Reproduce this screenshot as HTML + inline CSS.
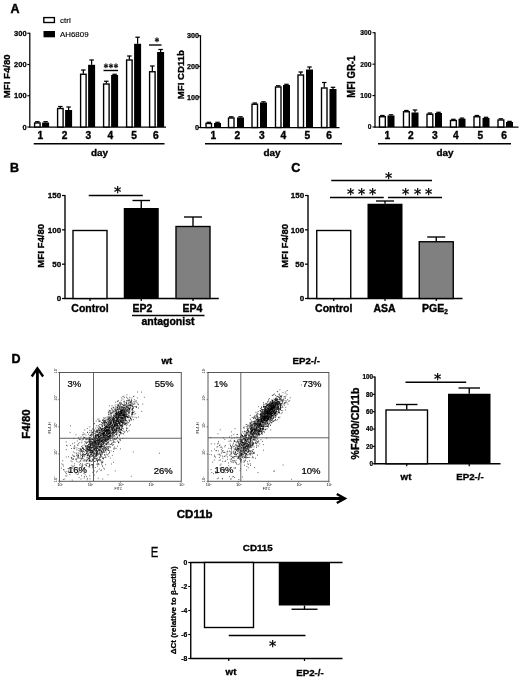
<!DOCTYPE html>
<html lang="en">
<head>
<meta charset="utf-8">
<title>Figure</title>
<style>
html,body{margin:0;padding:0;background:#fff;}
body{width:520px;height:681px;overflow:hidden;}
svg{display:block;}
svg text{font-family:"Liberation Sans",sans-serif;fill:#000;}
</style>
</head>
<body>
<svg width="520" height="681" viewBox="0 0 520 681">
<rect x="0" y="0" width="520" height="681" fill="#fff"/>
<text x="15.00" y="13.20" font-size="12.5" font-weight="bold" text-anchor="middle" stroke="#000" stroke-width="0.44">A</text>
<line x1="29.80" y1="32.75" x2="29.80" y2="127.50" stroke="#000" stroke-width="1.25"/>
<line x1="29.30" y1="127.00" x2="166.00" y2="127.00" stroke="#000" stroke-width="1.25"/>
<line x1="27.30" y1="33.25" x2="29.80" y2="33.25" stroke="#000" stroke-width="1.12"/>
<text x="26.60" y="35.95" font-size="7.5" font-weight="bold" text-anchor="end" stroke="#000" stroke-width="0.26">300</text>
<line x1="27.30" y1="64.50" x2="29.80" y2="64.50" stroke="#000" stroke-width="1.12"/>
<text x="26.60" y="67.20" font-size="7.5" font-weight="bold" text-anchor="end" stroke="#000" stroke-width="0.26">200</text>
<line x1="27.30" y1="95.75" x2="29.80" y2="95.75" stroke="#000" stroke-width="1.12"/>
<text x="26.60" y="98.45" font-size="7.5" font-weight="bold" text-anchor="end" stroke="#000" stroke-width="0.26">100</text>
<line x1="27.30" y1="127.00" x2="29.80" y2="127.00" stroke="#000" stroke-width="1.12"/>
<text x="26.60" y="129.70" font-size="7.5" font-weight="bold" text-anchor="end" stroke="#000" stroke-width="0.26">0</text>
<line x1="37.35" y1="122.50" x2="37.35" y2="121.70" stroke="#000" stroke-width="1.25"/>
<line x1="35.10" y1="121.70" x2="39.60" y2="121.70" stroke="#000" stroke-width="1.25"/>
<rect x="34.60" y="123.00" width="5.50" height="4.00" fill="#fff" stroke="#000" stroke-width="1.38"/>
<line x1="45.60" y1="122.50" x2="45.60" y2="121.70" stroke="#000" stroke-width="1.25"/>
<line x1="43.35" y1="121.70" x2="47.85" y2="121.70" stroke="#000" stroke-width="1.25"/>
<rect x="42.10" y="122.50" width="7.00" height="4.50" fill="#000" stroke="#000" stroke-width="0"/>
<text x="40.40" y="139.20" font-size="10.2" font-weight="bold" text-anchor="middle" stroke="#000" stroke-width="0.36">1</text>
<line x1="60.35" y1="108.00" x2="60.35" y2="106.50" stroke="#000" stroke-width="1.25"/>
<line x1="58.10" y1="106.50" x2="62.60" y2="106.50" stroke="#000" stroke-width="1.25"/>
<rect x="57.60" y="108.50" width="5.50" height="18.50" fill="#fff" stroke="#000" stroke-width="1.38"/>
<line x1="68.60" y1="110.00" x2="68.60" y2="107.00" stroke="#000" stroke-width="1.25"/>
<line x1="66.35" y1="107.00" x2="70.85" y2="107.00" stroke="#000" stroke-width="1.25"/>
<rect x="65.10" y="110.00" width="7.00" height="17.00" fill="#000" stroke="#000" stroke-width="0"/>
<text x="64.65" y="139.20" font-size="10.2" font-weight="bold" text-anchor="middle" stroke="#000" stroke-width="0.36">2</text>
<line x1="83.35" y1="73.75" x2="83.35" y2="70.00" stroke="#000" stroke-width="1.25"/>
<line x1="81.10" y1="70.00" x2="85.60" y2="70.00" stroke="#000" stroke-width="1.25"/>
<rect x="80.60" y="74.25" width="5.50" height="52.75" fill="#fff" stroke="#000" stroke-width="1.38"/>
<line x1="91.60" y1="64.80" x2="91.60" y2="60.00" stroke="#000" stroke-width="1.25"/>
<line x1="89.35" y1="60.00" x2="93.85" y2="60.00" stroke="#000" stroke-width="1.25"/>
<rect x="88.10" y="64.80" width="7.00" height="62.20" fill="#000" stroke="#000" stroke-width="0"/>
<text x="88.40" y="139.20" font-size="10.2" font-weight="bold" text-anchor="middle" stroke="#000" stroke-width="0.36">3</text>
<line x1="106.35" y1="83.50" x2="106.35" y2="81.25" stroke="#000" stroke-width="1.25"/>
<line x1="104.10" y1="81.25" x2="108.60" y2="81.25" stroke="#000" stroke-width="1.25"/>
<rect x="103.60" y="84.00" width="5.50" height="43.00" fill="#fff" stroke="#000" stroke-width="1.38"/>
<line x1="114.60" y1="75.00" x2="114.60" y2="74.30" stroke="#000" stroke-width="1.25"/>
<line x1="112.35" y1="74.30" x2="116.85" y2="74.30" stroke="#000" stroke-width="1.25"/>
<rect x="111.10" y="75.00" width="7.00" height="52.00" fill="#000" stroke="#000" stroke-width="0"/>
<text x="110.40" y="139.20" font-size="10.2" font-weight="bold" text-anchor="middle" stroke="#000" stroke-width="0.36">4</text>
<line x1="129.35" y1="59.50" x2="129.35" y2="56.00" stroke="#000" stroke-width="1.25"/>
<line x1="127.10" y1="56.00" x2="131.60" y2="56.00" stroke="#000" stroke-width="1.25"/>
<rect x="126.60" y="60.00" width="5.50" height="67.00" fill="#fff" stroke="#000" stroke-width="1.38"/>
<line x1="137.60" y1="43.80" x2="137.60" y2="37.20" stroke="#000" stroke-width="1.25"/>
<line x1="135.35" y1="37.20" x2="139.85" y2="37.20" stroke="#000" stroke-width="1.25"/>
<rect x="134.10" y="43.80" width="7.00" height="83.20" fill="#000" stroke="#000" stroke-width="0"/>
<text x="134.15" y="139.20" font-size="10.2" font-weight="bold" text-anchor="middle" stroke="#000" stroke-width="0.36">5</text>
<line x1="152.35" y1="71.25" x2="152.35" y2="66.00" stroke="#000" stroke-width="1.25"/>
<line x1="150.10" y1="66.00" x2="154.60" y2="66.00" stroke="#000" stroke-width="1.25"/>
<rect x="149.60" y="71.75" width="5.50" height="55.25" fill="#fff" stroke="#000" stroke-width="1.38"/>
<line x1="160.60" y1="52.00" x2="160.60" y2="49.50" stroke="#000" stroke-width="1.25"/>
<line x1="158.35" y1="49.50" x2="162.85" y2="49.50" stroke="#000" stroke-width="1.25"/>
<rect x="157.10" y="52.00" width="7.00" height="75.00" fill="#000" stroke="#000" stroke-width="0"/>
<text x="155.90" y="139.20" font-size="10.2" font-weight="bold" text-anchor="middle" stroke="#000" stroke-width="0.36">6</text>
<line x1="33.75" y1="143.75" x2="164.50" y2="143.75" stroke="#000" stroke-width="1.38"/>
<text x="99.60" y="155.50" font-size="9.9" font-weight="bold" text-anchor="middle" stroke="#000" stroke-width="0.35">day</text>
<text x="10.40" y="76.30" font-size="9.6" font-weight="bold" text-anchor="middle" transform="rotate(-90 10.40 76.30)" stroke="#000" stroke-width="0.34">MFI F4/80</text>
<rect x="43.80" y="17.60" width="10.60" height="4.90" fill="#fff" stroke="#000" stroke-width="1.38"/>
<text x="60.00" y="22.60" font-size="8.0" font-weight="normal" text-anchor="start" stroke="#000" stroke-width="0.15">ctrl</text>
<rect x="43.50" y="31.00" width="11.50" height="6.30" fill="#000" stroke="#000" stroke-width="0"/>
<text x="60.00" y="37.20" font-size="7.9" font-weight="normal" text-anchor="start" stroke="#000" stroke-width="0.15">AH6809</text>
<line x1="103.50" y1="70.50" x2="118.00" y2="70.50" stroke="#000" stroke-width="1.38"/>
<text x="102.66" y="67.51" font-size="6.6" font-family="'Liberation Sans','DejaVu Sans',sans-serif" stroke="#000" stroke-width="0.33">∗</text>
<text x="107.86" y="67.51" font-size="6.6" font-family="'Liberation Sans','DejaVu Sans',sans-serif" stroke="#000" stroke-width="0.33">∗</text>
<text x="113.06" y="67.51" font-size="6.6" font-family="'Liberation Sans','DejaVu Sans',sans-serif" stroke="#000" stroke-width="0.33">∗</text>
<line x1="149.00" y1="45.00" x2="161.50" y2="45.00" stroke="#000" stroke-width="1.38"/>
<text x="154.26" y="42.11" font-size="6.6" font-family="'Liberation Sans','DejaVu Sans',sans-serif" stroke="#000" stroke-width="0.33">∗</text>
<line x1="200.50" y1="35.25" x2="200.50" y2="128.00" stroke="#000" stroke-width="1.25"/>
<line x1="200.00" y1="127.50" x2="339.50" y2="127.50" stroke="#000" stroke-width="1.25"/>
<line x1="198.00" y1="35.75" x2="200.50" y2="35.75" stroke="#000" stroke-width="1.12"/>
<text x="198.90" y="38.34" font-size="7.2" font-weight="bold" text-anchor="end" stroke="#000" stroke-width="0.25">300</text>
<line x1="198.00" y1="66.33" x2="200.50" y2="66.33" stroke="#000" stroke-width="1.12"/>
<text x="198.90" y="68.93" font-size="7.2" font-weight="bold" text-anchor="end" stroke="#000" stroke-width="0.25">200</text>
<line x1="198.00" y1="96.92" x2="200.50" y2="96.92" stroke="#000" stroke-width="1.12"/>
<text x="198.90" y="99.51" font-size="7.2" font-weight="bold" text-anchor="end" stroke="#000" stroke-width="0.25">100</text>
<line x1="198.00" y1="127.50" x2="200.50" y2="127.50" stroke="#000" stroke-width="1.12"/>
<text x="198.90" y="130.09" font-size="7.2" font-weight="bold" text-anchor="end" stroke="#000" stroke-width="0.25">0</text>
<line x1="208.75" y1="123.00" x2="208.75" y2="122.30" stroke="#000" stroke-width="1.25"/>
<line x1="206.50" y1="122.30" x2="211.00" y2="122.30" stroke="#000" stroke-width="1.25"/>
<rect x="206.00" y="123.50" width="5.50" height="4.00" fill="#fff" stroke="#000" stroke-width="1.38"/>
<line x1="217.50" y1="123.00" x2="217.50" y2="122.30" stroke="#000" stroke-width="1.25"/>
<line x1="215.25" y1="122.30" x2="219.75" y2="122.30" stroke="#000" stroke-width="1.25"/>
<rect x="214.00" y="123.00" width="7.00" height="4.50" fill="#000" stroke="#000" stroke-width="0"/>
<text x="213.40" y="139.20" font-size="10.2" font-weight="bold" text-anchor="middle" stroke="#000" stroke-width="0.36">1</text>
<line x1="231.25" y1="117.50" x2="231.25" y2="116.80" stroke="#000" stroke-width="1.25"/>
<line x1="229.00" y1="116.80" x2="233.50" y2="116.80" stroke="#000" stroke-width="1.25"/>
<rect x="228.50" y="118.00" width="5.50" height="9.50" fill="#fff" stroke="#000" stroke-width="1.38"/>
<line x1="240.50" y1="117.50" x2="240.50" y2="116.80" stroke="#000" stroke-width="1.25"/>
<line x1="238.25" y1="116.80" x2="242.75" y2="116.80" stroke="#000" stroke-width="1.25"/>
<rect x="237.00" y="117.50" width="7.00" height="10.00" fill="#000" stroke="#000" stroke-width="0"/>
<text x="237.40" y="139.20" font-size="10.2" font-weight="bold" text-anchor="middle" stroke="#000" stroke-width="0.36">2</text>
<line x1="254.75" y1="103.75" x2="254.75" y2="103.00" stroke="#000" stroke-width="1.25"/>
<line x1="252.50" y1="103.00" x2="257.00" y2="103.00" stroke="#000" stroke-width="1.25"/>
<rect x="252.00" y="104.25" width="5.50" height="23.25" fill="#fff" stroke="#000" stroke-width="1.38"/>
<line x1="263.50" y1="102.50" x2="263.50" y2="101.80" stroke="#000" stroke-width="1.25"/>
<line x1="261.25" y1="101.80" x2="265.75" y2="101.80" stroke="#000" stroke-width="1.25"/>
<rect x="260.00" y="102.50" width="7.00" height="25.00" fill="#000" stroke="#000" stroke-width="0"/>
<text x="261.90" y="139.20" font-size="10.2" font-weight="bold" text-anchor="middle" stroke="#000" stroke-width="0.36">3</text>
<line x1="278.25" y1="86.50" x2="278.25" y2="85.80" stroke="#000" stroke-width="1.25"/>
<line x1="276.00" y1="85.80" x2="280.50" y2="85.80" stroke="#000" stroke-width="1.25"/>
<rect x="275.50" y="87.00" width="5.50" height="40.50" fill="#fff" stroke="#000" stroke-width="1.38"/>
<line x1="286.50" y1="85.00" x2="286.50" y2="84.30" stroke="#000" stroke-width="1.25"/>
<line x1="284.25" y1="84.30" x2="288.75" y2="84.30" stroke="#000" stroke-width="1.25"/>
<rect x="283.00" y="85.00" width="7.00" height="42.50" fill="#000" stroke="#000" stroke-width="0"/>
<text x="283.40" y="139.20" font-size="10.2" font-weight="bold" text-anchor="middle" stroke="#000" stroke-width="0.36">4</text>
<line x1="300.75" y1="74.50" x2="300.75" y2="72.00" stroke="#000" stroke-width="1.25"/>
<line x1="298.50" y1="72.00" x2="303.00" y2="72.00" stroke="#000" stroke-width="1.25"/>
<rect x="298.00" y="75.00" width="5.50" height="52.50" fill="#fff" stroke="#000" stroke-width="1.38"/>
<line x1="309.50" y1="69.50" x2="309.50" y2="67.00" stroke="#000" stroke-width="1.25"/>
<line x1="307.25" y1="67.00" x2="311.75" y2="67.00" stroke="#000" stroke-width="1.25"/>
<rect x="306.00" y="69.50" width="7.00" height="58.00" fill="#000" stroke="#000" stroke-width="0"/>
<text x="307.40" y="139.20" font-size="10.2" font-weight="bold" text-anchor="middle" stroke="#000" stroke-width="0.36">5</text>
<line x1="324.25" y1="87.50" x2="324.25" y2="82.50" stroke="#000" stroke-width="1.25"/>
<line x1="322.00" y1="82.50" x2="326.50" y2="82.50" stroke="#000" stroke-width="1.25"/>
<rect x="321.50" y="88.00" width="5.50" height="39.50" fill="#fff" stroke="#000" stroke-width="1.38"/>
<line x1="333.00" y1="89.00" x2="333.00" y2="87.30" stroke="#000" stroke-width="1.25"/>
<line x1="330.75" y1="87.30" x2="335.25" y2="87.30" stroke="#000" stroke-width="1.25"/>
<rect x="329.50" y="89.00" width="7.00" height="38.50" fill="#000" stroke="#000" stroke-width="0"/>
<text x="329.15" y="139.20" font-size="10.2" font-weight="bold" text-anchor="middle" stroke="#000" stroke-width="0.36">6</text>
<line x1="205.00" y1="143.75" x2="342.00" y2="143.75" stroke="#000" stroke-width="1.38"/>
<text x="272.00" y="155.50" font-size="9.9" font-weight="bold" text-anchor="middle" stroke="#000" stroke-width="0.35">day</text>
<text x="184.20" y="74.60" font-size="9.6" font-weight="bold" text-anchor="middle" transform="rotate(-90 184.20 74.60)" stroke="#000" stroke-width="0.34">MFI CD11b</text>
<line x1="375.00" y1="32.25" x2="375.00" y2="127.50" stroke="#000" stroke-width="1.25"/>
<line x1="374.50" y1="127.00" x2="518.50" y2="127.00" stroke="#000" stroke-width="1.25"/>
<line x1="372.50" y1="32.75" x2="375.00" y2="32.75" stroke="#000" stroke-width="1.12"/>
<text x="371.50" y="35.16" font-size="6.7" font-weight="bold" text-anchor="end" stroke="#000" stroke-width="0.23">300</text>
<line x1="372.50" y1="64.17" x2="375.00" y2="64.17" stroke="#000" stroke-width="1.12"/>
<text x="371.50" y="66.58" font-size="6.7" font-weight="bold" text-anchor="end" stroke="#000" stroke-width="0.23">200</text>
<line x1="372.50" y1="95.58" x2="375.00" y2="95.58" stroke="#000" stroke-width="1.12"/>
<text x="371.50" y="98.00" font-size="6.7" font-weight="bold" text-anchor="end" stroke="#000" stroke-width="0.23">100</text>
<line x1="372.50" y1="127.00" x2="375.00" y2="127.00" stroke="#000" stroke-width="1.12"/>
<text x="371.50" y="129.41" font-size="6.7" font-weight="bold" text-anchor="end" stroke="#000" stroke-width="0.23">0</text>
<line x1="382.40" y1="116.25" x2="382.40" y2="115.50" stroke="#000" stroke-width="1.25"/>
<line x1="380.15" y1="115.50" x2="384.65" y2="115.50" stroke="#000" stroke-width="1.25"/>
<rect x="379.50" y="116.75" width="5.80" height="10.25" fill="#fff" stroke="#000" stroke-width="1.38"/>
<line x1="391.00" y1="115.50" x2="391.00" y2="114.80" stroke="#000" stroke-width="1.25"/>
<line x1="388.75" y1="114.80" x2="393.25" y2="114.80" stroke="#000" stroke-width="1.25"/>
<rect x="387.50" y="115.50" width="7.00" height="11.50" fill="#000" stroke="#000" stroke-width="0"/>
<text x="387.40" y="139.20" font-size="10.2" font-weight="bold" text-anchor="middle" stroke="#000" stroke-width="0.36">1</text>
<line x1="406.40" y1="111.25" x2="406.40" y2="110.50" stroke="#000" stroke-width="1.25"/>
<line x1="404.15" y1="110.50" x2="408.65" y2="110.50" stroke="#000" stroke-width="1.25"/>
<rect x="403.50" y="111.75" width="5.80" height="15.25" fill="#fff" stroke="#000" stroke-width="1.38"/>
<line x1="415.00" y1="112.50" x2="415.00" y2="110.00" stroke="#000" stroke-width="1.25"/>
<line x1="412.75" y1="110.00" x2="417.25" y2="110.00" stroke="#000" stroke-width="1.25"/>
<rect x="411.50" y="112.50" width="7.00" height="14.50" fill="#000" stroke="#000" stroke-width="0"/>
<text x="410.90" y="139.20" font-size="10.2" font-weight="bold" text-anchor="middle" stroke="#000" stroke-width="0.36">2</text>
<line x1="429.90" y1="113.75" x2="429.90" y2="113.00" stroke="#000" stroke-width="1.25"/>
<line x1="427.65" y1="113.00" x2="432.15" y2="113.00" stroke="#000" stroke-width="1.25"/>
<rect x="427.00" y="114.25" width="5.80" height="12.75" fill="#fff" stroke="#000" stroke-width="1.38"/>
<line x1="438.50" y1="113.00" x2="438.50" y2="112.30" stroke="#000" stroke-width="1.25"/>
<line x1="436.25" y1="112.30" x2="440.75" y2="112.30" stroke="#000" stroke-width="1.25"/>
<rect x="435.00" y="113.00" width="7.00" height="14.00" fill="#000" stroke="#000" stroke-width="0"/>
<text x="434.90" y="139.20" font-size="10.2" font-weight="bold" text-anchor="middle" stroke="#000" stroke-width="0.36">3</text>
<line x1="453.40" y1="120.00" x2="453.40" y2="119.30" stroke="#000" stroke-width="1.25"/>
<line x1="451.15" y1="119.30" x2="455.65" y2="119.30" stroke="#000" stroke-width="1.25"/>
<rect x="450.50" y="120.50" width="5.80" height="6.50" fill="#fff" stroke="#000" stroke-width="1.38"/>
<line x1="462.00" y1="118.75" x2="462.00" y2="118.10" stroke="#000" stroke-width="1.25"/>
<line x1="459.75" y1="118.10" x2="464.25" y2="118.10" stroke="#000" stroke-width="1.25"/>
<rect x="458.50" y="118.75" width="7.00" height="8.25" fill="#000" stroke="#000" stroke-width="0"/>
<text x="455.90" y="139.20" font-size="10.2" font-weight="bold" text-anchor="middle" stroke="#000" stroke-width="0.36">4</text>
<line x1="476.90" y1="116.25" x2="476.90" y2="115.50" stroke="#000" stroke-width="1.25"/>
<line x1="474.65" y1="115.50" x2="479.15" y2="115.50" stroke="#000" stroke-width="1.25"/>
<rect x="474.00" y="116.75" width="5.80" height="10.25" fill="#fff" stroke="#000" stroke-width="1.38"/>
<line x1="486.00" y1="118.00" x2="486.00" y2="117.30" stroke="#000" stroke-width="1.25"/>
<line x1="483.75" y1="117.30" x2="488.25" y2="117.30" stroke="#000" stroke-width="1.25"/>
<rect x="482.50" y="118.00" width="7.00" height="9.00" fill="#000" stroke="#000" stroke-width="0"/>
<text x="480.40" y="139.20" font-size="10.2" font-weight="bold" text-anchor="middle" stroke="#000" stroke-width="0.36">5</text>
<line x1="500.90" y1="119.50" x2="500.90" y2="118.80" stroke="#000" stroke-width="1.25"/>
<line x1="498.65" y1="118.80" x2="503.15" y2="118.80" stroke="#000" stroke-width="1.25"/>
<rect x="498.00" y="120.00" width="5.80" height="7.00" fill="#fff" stroke="#000" stroke-width="1.38"/>
<line x1="509.50" y1="122.00" x2="509.50" y2="121.40" stroke="#000" stroke-width="1.25"/>
<line x1="507.25" y1="121.40" x2="511.75" y2="121.40" stroke="#000" stroke-width="1.25"/>
<rect x="506.00" y="122.00" width="7.00" height="5.00" fill="#000" stroke="#000" stroke-width="0"/>
<text x="504.15" y="139.20" font-size="10.2" font-weight="bold" text-anchor="middle" stroke="#000" stroke-width="0.36">6</text>
<line x1="378.00" y1="143.75" x2="511.00" y2="143.75" stroke="#000" stroke-width="1.38"/>
<text x="445.00" y="155.50" font-size="9.9" font-weight="bold" text-anchor="middle" stroke="#000" stroke-width="0.35">day</text>
<text x="0" y="0" font-size="9.6" font-weight="bold" text-anchor="middle" transform="translate(355.20 76.70) rotate(-90) scale(1 1.16)" stroke="#000" stroke-width="0.34">MFI GR-1</text>
<text x="14.50" y="172.00" font-size="12.5" font-weight="bold" text-anchor="middle" stroke="#000" stroke-width="0.44">B</text>
<line x1="65.00" y1="195.00" x2="65.00" y2="299.00" stroke="#000" stroke-width="1.38"/>
<line x1="64.50" y1="298.50" x2="218.75" y2="298.50" stroke="#000" stroke-width="1.38"/>
<line x1="62.00" y1="195.50" x2="65.00" y2="195.50" stroke="#000" stroke-width="1.25"/>
<text x="61.20" y="198.40" font-size="8.0" font-weight="bold" text-anchor="end" stroke="#000" stroke-width="0.28">150</text>
<line x1="62.00" y1="229.83" x2="65.00" y2="229.83" stroke="#000" stroke-width="1.25"/>
<text x="61.20" y="232.73" font-size="8.0" font-weight="bold" text-anchor="end" stroke="#000" stroke-width="0.28">100</text>
<line x1="62.00" y1="264.17" x2="65.00" y2="264.17" stroke="#000" stroke-width="1.25"/>
<text x="61.20" y="267.07" font-size="8.0" font-weight="bold" text-anchor="end" stroke="#000" stroke-width="0.28">50</text>
<line x1="62.00" y1="298.50" x2="65.00" y2="298.50" stroke="#000" stroke-width="1.25"/>
<text x="61.20" y="301.40" font-size="8.0" font-weight="bold" text-anchor="end" stroke="#000" stroke-width="0.28">0</text>
<rect x="73.00" y="230.50" width="34.00" height="68.00" fill="#fff" stroke="#000" stroke-width="1.38"/>
<line x1="90.00" y1="298.50" x2="90.00" y2="301.00" stroke="#000" stroke-width="1.25"/>
<line x1="141.25" y1="208.00" x2="141.25" y2="200.50" stroke="#000" stroke-width="1.38"/>
<line x1="132.50" y1="200.50" x2="150.00" y2="200.50" stroke="#000" stroke-width="1.38"/>
<rect x="123.75" y="208.00" width="35.00" height="90.50" fill="#000" stroke="#000" stroke-width="0"/>
<line x1="141.25" y1="298.50" x2="141.25" y2="301.00" stroke="#000" stroke-width="1.25"/>
<line x1="193.00" y1="226.00" x2="193.00" y2="217.00" stroke="#000" stroke-width="1.38"/>
<line x1="184.00" y1="217.00" x2="202.00" y2="217.00" stroke="#000" stroke-width="1.38"/>
<rect x="176.00" y="226.50" width="34.00" height="72.00" fill="#808080" stroke="#000" stroke-width="1.38"/>
<line x1="193.00" y1="298.50" x2="193.00" y2="301.00" stroke="#000" stroke-width="1.25"/>
<text x="44.50" y="245.80" font-size="9.6" font-weight="bold" text-anchor="middle" transform="rotate(-90 44.50 245.80)" stroke="#000" stroke-width="0.34">MFI F4/80</text>
<line x1="88.75" y1="195.40" x2="142.80" y2="195.40" stroke="#000" stroke-width="1.5"/>
<text x="112.62" y="193.06" font-size="10.8" font-family="'Liberation Sans','DejaVu Sans',sans-serif" stroke="#000" stroke-width="0.27">∗</text>
<text x="90.00" y="311.70" font-size="10.5" font-weight="bold" text-anchor="middle" stroke="#000" stroke-width="0.37">Control</text>
<text x="142.50" y="311.70" font-size="10.5" font-weight="bold" text-anchor="middle" stroke="#000" stroke-width="0.37">EP2</text>
<text x="192.50" y="311.70" font-size="10.5" font-weight="bold" text-anchor="middle" stroke="#000" stroke-width="0.37">EP4</text>
<line x1="132.00" y1="315.50" x2="204.50" y2="315.50" stroke="#000" stroke-width="1.38"/>
<text x="168.00" y="324.60" font-size="10.5" font-weight="bold" text-anchor="middle" stroke="#000" stroke-width="0.37">antagonist</text>
<text x="295.80" y="172.00" font-size="12.5" font-weight="bold" text-anchor="middle" stroke="#000" stroke-width="0.44">C</text>
<line x1="308.00" y1="195.00" x2="308.00" y2="299.00" stroke="#000" stroke-width="1.38"/>
<line x1="307.50" y1="298.50" x2="462.50" y2="298.50" stroke="#000" stroke-width="1.38"/>
<line x1="305.00" y1="195.50" x2="308.00" y2="195.50" stroke="#000" stroke-width="1.25"/>
<text x="304.20" y="198.40" font-size="8.0" font-weight="bold" text-anchor="end" stroke="#000" stroke-width="0.28">150</text>
<line x1="305.00" y1="229.83" x2="308.00" y2="229.83" stroke="#000" stroke-width="1.25"/>
<text x="304.20" y="232.73" font-size="8.0" font-weight="bold" text-anchor="end" stroke="#000" stroke-width="0.28">100</text>
<line x1="305.00" y1="264.17" x2="308.00" y2="264.17" stroke="#000" stroke-width="1.25"/>
<text x="304.20" y="267.07" font-size="8.0" font-weight="bold" text-anchor="end" stroke="#000" stroke-width="0.28">50</text>
<line x1="305.00" y1="298.50" x2="308.00" y2="298.50" stroke="#000" stroke-width="1.25"/>
<text x="304.20" y="301.40" font-size="8.0" font-weight="bold" text-anchor="end" stroke="#000" stroke-width="0.28">0</text>
<rect x="316.75" y="230.50" width="34.00" height="68.00" fill="#fff" stroke="#000" stroke-width="1.38"/>
<line x1="333.75" y1="298.50" x2="333.75" y2="301.00" stroke="#000" stroke-width="1.25"/>
<line x1="385.00" y1="203.75" x2="385.00" y2="201.00" stroke="#000" stroke-width="1.38"/>
<line x1="376.00" y1="201.00" x2="394.00" y2="201.00" stroke="#000" stroke-width="1.38"/>
<rect x="367.50" y="203.75" width="35.00" height="94.75" fill="#000" stroke="#000" stroke-width="0"/>
<line x1="385.00" y1="298.50" x2="385.00" y2="301.00" stroke="#000" stroke-width="1.25"/>
<line x1="436.25" y1="241.25" x2="436.25" y2="237.00" stroke="#000" stroke-width="1.38"/>
<line x1="427.25" y1="237.00" x2="445.25" y2="237.00" stroke="#000" stroke-width="1.38"/>
<rect x="419.25" y="241.75" width="34.00" height="56.75" fill="#808080" stroke="#000" stroke-width="1.38"/>
<line x1="436.25" y1="298.50" x2="436.25" y2="301.00" stroke="#000" stroke-width="1.25"/>
<text x="288.00" y="245.80" font-size="9.6" font-weight="bold" text-anchor="middle" transform="rotate(-90 288.00 245.80)" stroke="#000" stroke-width="0.34">MFI F4/80</text>
<line x1="331.25" y1="180.60" x2="432.00" y2="180.60" stroke="#000" stroke-width="1.5"/>
<text x="383.52" y="178.76" font-size="10.8" font-family="'Liberation Sans','DejaVu Sans',sans-serif" stroke="#000" stroke-width="0.27">∗</text>
<line x1="330.00" y1="197.60" x2="383.75" y2="197.60" stroke="#000" stroke-width="1.5"/>
<line x1="388.00" y1="197.60" x2="442.00" y2="197.60" stroke="#000" stroke-width="1.5"/>
<text x="346.02" y="194.76" font-size="10.8" font-family="'Liberation Sans','DejaVu Sans',sans-serif" stroke="#000" stroke-width="0.27">∗</text>
<text x="357.02" y="194.76" font-size="10.8" font-family="'Liberation Sans','DejaVu Sans',sans-serif" stroke="#000" stroke-width="0.27">∗</text>
<text x="368.27" y="194.76" font-size="10.8" font-family="'Liberation Sans','DejaVu Sans',sans-serif" stroke="#000" stroke-width="0.27">∗</text>
<text x="401.02" y="194.76" font-size="10.8" font-family="'Liberation Sans','DejaVu Sans',sans-serif" stroke="#000" stroke-width="0.27">∗</text>
<text x="412.52" y="194.76" font-size="10.8" font-family="'Liberation Sans','DejaVu Sans',sans-serif" stroke="#000" stroke-width="0.27">∗</text>
<text x="423.77" y="194.76" font-size="10.8" font-family="'Liberation Sans','DejaVu Sans',sans-serif" stroke="#000" stroke-width="0.27">∗</text>
<text x="333.75" y="312.30" font-size="10.5" font-weight="bold" text-anchor="middle" stroke="#000" stroke-width="0.37">Control</text>
<text x="384.60" y="312.30" font-size="10.5" font-weight="bold" text-anchor="middle" stroke="#000" stroke-width="0.37">ASA</text>
<text x="435.00" y="312.30" font-size="10.5" font-weight="bold" text-anchor="middle" stroke="#000" stroke-width="0.37">PGE<tspan font-size="6.5" dy="2">2</tspan></text>
<text x="16.00" y="363.30" font-size="12.5" font-weight="bold" text-anchor="middle" stroke="#000" stroke-width="0.44">D</text>
<line x1="37.40" y1="369.00" x2="37.40" y2="499.90" stroke="#000" stroke-width="2.8"/>
<polyline points="31.7,376.5 37.4,368.3 43.1,376.5" fill="none" stroke="#000" stroke-width="2.4" stroke-linejoin="miter"/>
<line x1="36.00" y1="498.50" x2="345.00" y2="498.50" stroke="#000" stroke-width="2.8"/>
<polyline points="336.8,494.0 344.9,498.5 336.8,503.0" fill="none" stroke="#000" stroke-width="2.4" stroke-linejoin="miter"/>
<text x="30.00" y="424.00" font-size="11.5" font-weight="bold" text-anchor="middle" transform="rotate(-90 30.00 424.00)" stroke="#000" stroke-width="0.40">F4/80</text>
<text x="194.70" y="518.00" font-size="11.5" font-weight="bold" text-anchor="middle" stroke="#000" stroke-width="0.40">CD11b</text>
<path d="M90.8 447.1h.8M95.7 449.9h.8M91.8 454.9h.8M97.9 437.0h.8M98.5 438.2h.8M95.8 443.3h.8M82.1 456.6h.8M94.5 441.3h.8M97.0 466.2h.8M93.5 455.5h.8M96.7 444.8h.8M101.2 445.3h.8M94.2 443.2h.8M81.9 445.9h.8M90.8 438.4h.8M96.3 454.4h.8M94.0 450.0h.8M96.6 441.3h.8M98.4 453.9h.8M85.5 446.6h.8M89.7 452.3h.8M105.6 449.1h.8M87.7 441.9h.8M87.2 463.5h.8M99.2 450.8h.8M97.7 443.4h.8M83.2 455.2h.8M92.7 438.5h.8M99.8 434.7h.8M103.1 450.8h.8M101.5 444.5h.8M100.1 455.0h.8M93.4 456.3h.8M112.9 444.5h.8M86.7 457.3h.8M98.5 433.9h.8M100.5 470.6h.8M101.0 446.9h.8M84.0 452.0h.8M99.3 438.0h.8M93.7 443.6h.8M99.0 432.6h.8M94.3 441.1h.8M80.1 454.4h.8M96.5 437.8h.8M89.2 464.3h.8M109.5 447.1h.8M88.2 444.7h.8M79.5 451.2h.8M98.5 443.3h.8M92.8 442.2h.8M89.0 442.0h.8M94.2 453.5h.8M99.8 439.0h.8M85.3 450.3h.8M104.6 437.4h.8M89.2 458.0h.8M96.0 449.2h.8M107.6 440.0h.8M108.3 441.9h.8M87.6 450.7h.8M95.4 435.3h.8M95.8 443.9h.8M92.4 443.8h.8M92.6 447.3h.8M97.7 442.6h.8M95.4 439.1h.8M102.7 430.5h.8M95.1 451.6h.8M89.6 443.8h.8M91.2 448.2h.8M118.6 442.2h.8M88.2 454.7h.8M95.5 443.1h.8M89.2 447.9h.8M99.4 446.7h.8M104.5 427.2h.8M92.9 451.6h.8M94.3 448.9h.8M84.8 469.6h.8M106.5 443.5h.8M89.2 444.1h.8M90.5 435.1h.8M88.9 461.3h.8M89.8 447.4h.8M115.7 448.3h.8M108.5 443.9h.8M106.9 447.2h.8M88.9 441.4h.8M93.2 447.5h.8M98.0 440.4h.8M85.7 442.2h.8M101.7 440.1h.8M114.7 430.2h.8M100.9 441.0h.8M91.6 443.4h.8M92.4 443.0h.8M96.4 464.1h.8M103.5 445.8h.8M98.6 460.1h.8M96.7 434.6h.8M107.4 439.1h.8M101.6 451.1h.8M89.5 435.4h.8M81.8 448.2h.8M100.7 440.1h.8M77.5 457.0h.8M98.0 449.9h.8M94.5 442.5h.8M108.0 439.2h.8M91.8 433.0h.8M103.0 436.6h.8M85.6 449.0h.8M94.8 445.7h.8M103.3 437.1h.8M86.3 465.9h.8M81.4 458.2h.8M100.0 446.8h.8M90.2 444.1h.8M87.7 441.6h.8M88.7 443.7h.8M92.8 429.8h.8M86.7 449.0h.8M92.3 465.2h.8M79.5 458.1h.8M89.2 456.4h.8M94.2 448.6h.8M90.8 450.7h.8M103.3 433.2h.8M91.8 439.3h.8M101.3 453.1h.8M86.2 447.4h.8M90.6 461.7h.8M95.2 436.5h.8M90.4 444.0h.8M102.6 450.0h.8M91.2 461.2h.8M102.7 442.0h.8M95.1 456.7h.8M88.4 459.1h.8M87.3 454.7h.8M81.9 463.8h.8M103.1 458.9h.8M100.0 442.5h.8M89.4 467.2h.8M99.0 446.4h.8M94.4 438.4h.8M96.3 440.7h.8M97.6 434.4h.8M109.2 451.1h.8M91.7 435.4h.8M96.3 451.0h.8M114.4 438.5h.8M83.3 434.7h.8M86.6 451.6h.8M104.7 433.0h.8M92.5 439.5h.8M91.2 454.2h.8M91.6 441.8h.8M96.0 448.0h.8M92.2 456.0h.8M98.7 439.8h.8M95.8 456.5h.8M101.1 422.5h.8M113.0 451.5h.8M95.2 440.5h.8M100.6 432.6h.8M91.7 445.6h.8M79.8 458.1h.8M100.6 447.1h.8M90.9 430.4h.8M92.2 460.1h.8M95.3 444.1h.8M98.7 453.6h.8M99.1 427.1h.8M97.1 461.0h.8M97.4 430.4h.8M99.0 430.2h.8M89.3 452.7h.8M89.0 466.2h.8M91.7 445.6h.8M92.2 453.0h.8M95.0 442.1h.8M96.8 441.4h.8M88.9 446.6h.8M100.0 449.6h.8M92.0 451.8h.8M93.6 447.3h.8M94.0 446.4h.8M101.6 452.6h.8M90.9 440.0h.8M98.2 444.4h.8M102.7 447.1h.8M85.6 461.3h.8M86.3 451.4h.8M105.0 464.7h.8M80.9 449.2h.8M101.1 454.8h.8M88.4 450.9h.8M96.4 442.6h.8M98.0 433.1h.8M91.5 445.0h.8M97.3 430.9h.8M106.1 443.1h.8M90.1 445.5h.8M87.4 445.4h.8M92.6 439.2h.8M79.3 439.4h.8M102.2 438.3h.8M80.5 437.0h.8M88.3 446.5h.8M99.6 439.5h.8M88.4 455.2h.8M90.2 440.2h.8M98.6 440.9h.8M96.0 438.5h.8M95.7 445.2h.8M89.9 446.4h.8M93.6 457.3h.8M103.5 452.2h.8M104.5 457.6h.8M88.5 450.2h.8M98.0 442.9h.8M102.1 453.9h.8M100.7 431.2h.8M105.3 441.8h.8M104.6 455.0h.8M93.3 437.7h.8M86.3 461.7h.8M108.2 448.5h.8M92.4 464.8h.8M100.1 456.9h.8M93.7 445.9h.8M94.0 439.6h.8M95.5 431.3h.8M91.7 458.8h.8M96.2 459.0h.8M94.6 447.6h.8M106.5 449.0h.8M89.2 456.5h.8M95.8 449.6h.8M99.1 450.2h.8M96.3 440.4h.8M98.5 450.1h.8M109.9 458.1h.8M90.1 454.4h.8M86.7 457.8h.8M103.6 450.8h.8M95.6 450.0h.8M93.7 441.3h.8M99.7 450.3h.8M94.7 448.3h.8M96.8 440.3h.8M99.4 457.4h.8M97.5 452.5h.8M90.4 455.9h.8M92.0 450.4h.8M99.9 444.5h.8M107.9 430.4h.8M99.6 438.2h.8M114.0 447.0h.8M90.0 451.8h.8M84.4 434.0h.8M89.2 439.9h.8M93.2 437.7h.8M98.3 443.7h.8M103.6 447.0h.8M106.5 441.6h.8M84.0 437.5h.8M93.8 448.6h.8M100.4 438.0h.8M89.7 452.2h.8M93.7 440.0h.8M81.2 446.6h.8M102.8 434.2h.8M98.8 446.5h.8M105.8 438.7h.8M101.0 443.6h.8M87.5 449.7h.8M101.4 436.9h.8M87.1 449.2h.8M93.0 446.3h.8M95.7 431.3h.8M79.4 442.7h.8M90.5 444.1h.8M92.2 452.1h.8M76.4 453.9h.8M108.5 441.0h.8M97.2 464.3h.8M103.3 439.7h.8M96.5 448.6h.8M100.7 451.8h.8M103.4 452.0h.8M92.9 446.4h.8M98.6 444.3h.8M89.8 453.3h.8M83.7 445.1h.8M99.3 441.6h.8M96.8 453.1h.8M92.6 455.4h.8M93.4 442.9h.8M85.6 435.1h.8M91.6 452.3h.8M119.1 432.4h.8M91.5 450.4h.8M93.4 444.4h.8M91.8 447.5h.8M90.8 443.8h.8M91.1 464.6h.8M100.9 450.7h.8M86.4 452.7h.8M88.2 449.7h.8M96.8 440.2h.8M98.0 443.5h.8M88.5 457.9h.8M100.2 445.4h.8M90.2 445.1h.8M87.1 451.4h.8M107.1 434.8h.8M96.6 446.4h.8M100.5 434.1h.8M103.3 442.6h.8M95.0 447.2h.8M78.2 455.4h.8M109.4 446.4h.8M99.3 441.8h.8M95.0 442.3h.8M89.1 459.2h.8M105.4 437.7h.8M98.0 459.7h.8M87.2 455.1h.8M100.6 432.5h.8M83.3 437.1h.8M96.4 453.4h.8M94.4 441.0h.8M96.9 459.0h.8M95.0 443.9h.8M89.9 457.7h.8M89.8 449.5h.8M94.9 448.2h.8M87.2 445.9h.8M103.7 437.7h.8M103.4 443.3h.8M91.0 443.7h.8M104.4 436.8h.8M93.5 446.9h.8M87.8 458.4h.8M89.6 450.8h.8M101.0 462.7h.8M93.7 445.8h.8M87.3 448.0h.8M97.2 451.3h.8M106.3 449.0h.8M91.9 452.2h.8M100.0 441.1h.8M100.3 447.0h.8M86.8 438.7h.8M78.1 443.7h.8M91.8 451.9h.8M89.9 442.0h.8M101.2 464.0h.8M93.3 439.5h.8M82.8 432.8h.8M94.5 444.5h.8M97.3 438.6h.8M110.1 438.8h.8M113.1 462.3h.8M101.0 442.1h.8M87.0 432.2h.8M96.4 448.0h.8M97.4 453.8h.8M88.3 449.5h.8M94.8 446.5h.8M88.9 445.0h.8M98.2 443.7h.8M99.0 442.5h.8M81.1 450.6h.8M102.7 446.9h.8M98.2 437.5h.8M78.3 453.1h.8M91.4 441.2h.8M96.8 446.0h.8M82.0 455.3h.8M96.8 447.8h.8M96.2 444.0h.8M100.4 443.2h.8M107.2 455.0h.8M89.1 447.8h.8M103.5 438.1h.8M85.3 442.2h.8M89.2 446.8h.8M102.8 434.0h.8M104.9 440.2h.8M96.4 445.7h.8M89.0 442.1h.8M110.2 431.2h.8M89.4 449.6h.8M87.1 453.3h.8M99.3 443.6h.8M106.5 448.5h.8M107.5 446.8h.8M94.9 454.3h.8M88.1 447.0h.8M97.7 447.8h.8M88.5 437.2h.8M92.9 445.6h.8M99.4 436.6h.8M74.5 447.8h.8M117.0 437.3h.8M92.4 445.8h.8M95.7 437.2h.8M99.8 452.9h.8M89.5 442.5h.8M95.7 459.0h.8M106.1 454.2h.8M96.3 450.6h.8M101.2 446.1h.8M93.1 455.2h.8M98.6 449.8h.8M90.7 444.2h.8M90.8 431.8h.8M93.7 454.5h.8M72.2 459.1h.8M91.7 452.7h.8M105.3 447.9h.8M97.4 443.6h.8M84.6 459.9h.8M111.5 444.6h.8M97.6 440.1h.8M94.7 441.8h.8M102.5 437.9h.8M101.5 441.8h.8M103.2 444.4h.8M84.5 441.6h.8M98.0 444.2h.8M94.1 458.6h.8M90.5 442.1h.8M94.0 441.9h.8M87.0 442.4h.8M96.3 452.0h.8M98.9 440.0h.8M97.0 451.2h.8M90.2 446.7h.8M103.7 448.7h.8M96.0 443.1h.8M85.8 451.8h.8M95.6 450.3h.8M91.2 436.2h.8M89.2 450.7h.8M77.5 445.3h.8M85.8 446.5h.8M87.2 449.0h.8M120.2 439.2h.8M90.0 448.5h.8M98.4 450.1h.8M104.8 430.3h.8M82.2 456.5h.8M80.2 456.0h.8M91.4 450.9h.8M100.3 437.0h.8M98.1 463.7h.8M96.4 435.3h.8M86.2 450.1h.8M93.6 440.9h.8M86.0 465.3h.8M95.1 437.5h.8M113.4 449.1h.8M93.0 443.9h.8M112.7 431.0h.8M93.2 449.4h.8M101.8 441.8h.8M105.0 441.1h.8M99.3 446.9h.8M99.7 448.3h.8M81.1 455.3h.8M99.7 446.7h.8M90.2 441.9h.8M91.0 454.9h.8M94.5 441.0h.8M105.6 457.2h.8M99.0 436.3h.8M96.7 447.9h.8M98.7 446.5h.8M94.4 457.5h.8M95.7 453.8h.8M85.8 453.6h.8M84.9 454.6h.8M88.1 453.5h.8M100.4 435.8h.8M91.2 452.4h.8M105.7 452.1h.8M91.2 451.1h.8M92.3 450.3h.8M94.1 438.6h.8M95.9 438.0h.8M93.7 449.3h.8M95.5 450.2h.8M104.1 454.6h.8M93.5 449.6h.8M90.5 454.5h.8M98.4 443.7h.8M119.9 440.5h.8M104.5 455.2h.8M84.4 430.0h.8M82.3 465.6h.8M99.2 444.1h.8M110.6 450.9h.8M96.9 439.2h.8M98.5 448.9h.8M100.8 443.9h.8M99.0 447.1h.8M84.5 464.3h.8M91.6 442.7h.8M91.0 453.8h.8M97.1 441.8h.8M89.4 430.3h.8M101.7 460.9h.8M90.3 435.0h.8M94.7 437.0h.8M96.2 454.3h.8M104.5 443.5h.8M92.1 464.4h.8M95.8 421.0h.8M95.9 454.9h.8M100.4 447.9h.8M101.7 437.3h.8M82.3 450.6h.8M90.9 450.7h.8M96.8 448.2h.8M100.5 447.0h.8M98.9 469.0h.8M93.3 459.4h.8M94.6 447.0h.8M97.0 442.3h.8M95.3 455.6h.8M85.9 463.8h.8M94.3 441.4h.8M95.4 448.6h.8M99.4 439.8h.8M95.2 439.3h.8M88.5 440.7h.8M94.3 452.7h.8M95.7 456.0h.8M92.3 428.8h.8M91.8 444.8h.8M95.9 435.1h.8M108.0 442.4h.8M89.3 450.2h.8M101.2 435.7h.8M93.0 454.8h.8M96.8 455.1h.8M105.8 437.8h.8M82.6 439.1h.8M98.7 436.7h.8M89.7 450.2h.8M99.1 432.4h.8M100.5 437.0h.8M98.6 443.8h.8M89.5 439.1h.8M88.5 458.1h.8M99.4 447.2h.8M89.0 446.5h.8M100.9 429.5h.8M105.5 450.1h.8M103.7 432.0h.8M101.3 451.3h.8M101.1 451.4h.8M92.6 444.8h.8M93.5 445.8h.8M82.7 448.3h.8M102.4 458.5h.8M98.5 451.2h.8M92.2 456.0h.8M103.2 449.0h.8M86.1 442.9h.8M99.1 442.3h.8M96.3 446.5h.8M90.5 444.7h.8M108.4 456.4h.8M100.0 450.4h.8M101.6 444.2h.8M83.2 438.0h.8M96.5 459.0h.8M102.1 466.4h.8M83.9 460.0h.8M102.7 458.6h.8M84.4 456.1h.8M93.4 454.2h.8M88.8 439.6h.8M98.3 428.5h.8M94.6 445.2h.8M95.4 428.1h.8M90.9 447.7h.8M96.1 444.6h.8M100.3 455.6h.8M101.4 456.6h.8M97.7 435.7h.8M81.2 451.2h.8M110.3 447.1h.8M99.1 430.0h.8M111.9 435.7h.8M95.1 441.4h.8M95.0 444.8h.8M108.6 444.3h.8M97.1 461.5h.8M95.8 453.4h.8M95.2 443.2h.8M99.1 449.2h.8M87.4 446.9h.8M98.1 440.8h.8M84.5 443.9h.8M88.4 449.2h.8M102.0 439.2h.8M105.4 444.7h.8M98.7 438.6h.8M83.6 456.7h.8M83.4 449.2h.8M92.7 452.8h.8M98.3 446.0h.8M99.4 447.0h.8M98.2 441.9h.8M111.9 455.3h.8M100.4 438.0h.8M85.9 460.3h.8M91.1 439.6h.8M80.9 449.7h.8M80.4 439.6h.8M90.4 445.7h.8M99.7 453.8h.8M95.0 435.4h.8M97.4 432.2h.8M101.9 457.4h.8M95.8 454.4h.8M87.8 451.1h.8M98.1 445.5h.8M96.7 446.2h.8M91.7 442.7h.8M103.5 442.1h.8M79.6 453.4h.8M89.2 442.1h.8M89.1 460.7h.8M103.4 452.0h.8M88.4 448.3h.8M91.0 433.0h.8M99.0 458.6h.8M92.1 439.6h.8M103.4 450.2h.8M94.2 438.2h.8M100.4 444.5h.8M91.9 441.8h.8M103.0 457.9h.8M93.8 442.8h.8M89.9 443.7h.8M92.7 451.8h.8M90.2 447.3h.8M104.1 435.7h.8M96.0 425.8h.8M95.4 438.8h.8M104.5 434.1h.8M100.6 451.7h.8M89.5 438.5h.8M95.1 441.4h.8M93.1 447.9h.8M82.2 454.1h.8M99.4 454.1h.8M96.2 455.7h.8M93.0 436.7h.8M83.2 454.0h.8M102.6 442.3h.8M92.2 461.0h.8M90.0 450.6h.8M105.0 457.0h.8M105.0 450.7h.8M106.3 444.4h.8M96.6 455.4h.8M84.9 446.5h.8M95.6 438.3h.8M105.4 450.1h.8M95.7 453.0h.8M87.4 452.6h.8M95.6 455.2h.8M101.9 462.4h.8M90.2 437.7h.8M101.5 449.2h.8M81.1 467.0h.8M99.1 436.6h.8M90.9 434.6h.8M102.9 440.0h.8M95.5 436.2h.8M90.0 460.2h.8M88.8 458.3h.8M103.9 446.4h.8M77.7 458.0h.8M88.3 438.8h.8M82.6 453.3h.8M93.3 423.9h.8M92.4 447.6h.8M88.5 444.6h.8M99.4 438.8h.8M84.2 454.7h.8M89.1 448.3h.8M86.9 439.1h.8M103.0 439.9h.8M86.5 438.0h.8M89.9 449.5h.8M93.4 433.4h.8M105.1 447.8h.8M87.6 455.7h.8M82.2 434.9h.8M84.3 449.5h.8M108.3 447.1h.8M90.1 452.6h.8M93.5 451.3h.8M101.9 446.3h.8M100.9 445.7h.8M89.3 449.2h.8M90.6 450.3h.8M102.5 434.7h.8M90.1 445.5h.8M87.0 445.9h.8M85.3 454.6h.8M97.2 453.8h.8M108.3 436.6h.8M99.6 431.2h.8M107.6 439.4h.8M92.3 432.6h.8M95.2 448.4h.8M105.7 427.6h.8M96.6 452.5h.8M95.2 442.4h.8M85.9 439.4h.8M90.7 447.8h.8M107.7 439.5h.8M89.4 432.5h.8M94.9 461.3h.8M100.7 461.6h.8M107.9 450.2h.8M89.0 438.0h.8M89.1 460.5h.8M81.4 458.8h.8M93.0 453.6h.8M92.1 444.6h.8M93.3 449.6h.8M91.7 450.8h.8M89.0 455.7h.8M88.6 463.5h.8M103.7 432.1h.8M87.5 455.7h.8M99.9 460.4h.8M87.2 450.0h.8M97.4 444.4h.8M96.8 458.0h.8M100.0 435.8h.8M102.6 461.9h.8M74.2 448.5h.8M90.0 456.0h.8M96.9 446.0h.8M101.6 454.1h.8M80.2 448.9h.8M86.5 449.7h.8M88.5 460.9h.8M90.3 441.3h.8M86.2 453.4h.8M101.1 446.7h.8M102.5 446.6h.8M91.3 453.1h.8M82.7 468.1h.8M98.7 459.9h.8M88.6 447.5h.8M85.8 445.5h.8M97.0 460.6h.8M100.1 433.7h.8M104.3 442.8h.8M97.3 439.9h.8M97.9 442.0h.8M104.5 440.1h.8M98.9 459.7h.8M104.8 440.8h.8M95.4 458.3h.8M100.2 455.0h.8M97.2 451.5h.8M97.9 454.7h.8M97.8 448.4h.8M94.1 445.2h.8M109.2 452.3h.8M97.0 454.0h.8M107.8 446.8h.8M93.3 453.5h.8M87.7 446.0h.8M87.3 446.9h.8M98.5 464.7h.8M98.3 436.1h.8M96.6 442.8h.8M104.3 447.7h.8M102.6 441.7h.8M99.2 439.2h.8M93.0 466.7h.8M101.2 438.9h.8M91.7 449.1h.8M96.1 452.2h.8M106.8 430.7h.8M114.6 420.7h.8M107.8 411.9h.8M110.6 415.7h.8M107.0 430.6h.8M109.9 435.6h.8M109.8 434.7h.8M112.8 418.1h.8M114.1 441.9h.8M108.8 433.8h.8M107.0 443.9h.8M92.6 446.6h.8M94.0 423.6h.8M107.6 432.7h.8M113.8 420.9h.8M109.7 432.0h.8M96.5 431.3h.8M103.7 418.7h.8M105.0 434.5h.8M97.7 435.2h.8M97.0 440.3h.8M105.7 419.1h.8M96.8 435.2h.8M107.0 439.9h.8M94.5 437.8h.8M118.4 421.9h.8M104.7 438.8h.8M115.0 410.1h.8M113.0 442.2h.8M97.7 432.9h.8M118.0 419.1h.8M105.9 438.9h.8M92.8 442.8h.8M96.2 436.3h.8M104.4 449.0h.8M112.2 432.5h.8M111.0 426.2h.8M97.9 438.5h.8M120.7 432.4h.8M114.0 416.8h.8M120.1 432.8h.8M105.0 438.5h.8M119.7 429.1h.8M112.4 445.5h.8M104.1 432.6h.8M101.2 446.5h.8M101.8 422.8h.8M111.9 428.1h.8M105.5 443.9h.8M102.8 436.4h.8M98.6 426.6h.8M113.8 433.6h.8M110.3 417.3h.8M111.1 433.7h.8M102.4 449.3h.8M115.7 428.0h.8M99.2 441.1h.8M105.3 428.1h.8M103.5 422.3h.8M97.9 434.8h.8M98.5 436.9h.8M106.7 429.8h.8M112.1 424.9h.8M108.4 420.8h.8M110.5 433.0h.8M105.7 439.4h.8M106.1 433.6h.8M119.2 407.8h.8M115.2 429.3h.8M104.9 438.3h.8M113.1 434.1h.8M118.1 422.1h.8M124.0 432.1h.8M105.6 431.1h.8M105.0 428.5h.8M107.6 429.4h.8M100.7 448.4h.8M91.8 447.1h.8M109.5 430.4h.8M105.6 440.1h.8M108.0 412.4h.8M100.4 428.0h.8M108.3 450.4h.8M108.8 438.6h.8M103.2 435.5h.8M125.9 412.0h.8M105.9 430.7h.8M102.2 429.0h.8M122.3 423.2h.8M109.1 431.7h.8M116.4 434.6h.8M109.3 452.9h.8M108.8 427.5h.8M119.0 439.6h.8M108.8 437.4h.8M104.2 445.6h.8M107.9 425.0h.8M104.4 430.4h.8M103.5 436.2h.8M104.5 429.8h.8M107.3 433.0h.8M109.5 435.2h.8M116.0 413.8h.8M98.0 421.0h.8M121.9 427.0h.8M106.5 424.0h.8M110.3 413.6h.8M116.8 430.4h.8M101.2 437.5h.8M114.6 431.8h.8M107.0 436.2h.8M105.7 430.4h.8M111.6 438.4h.8M105.6 417.3h.8M101.4 429.3h.8M106.1 426.5h.8M113.2 431.1h.8M105.0 424.3h.8M92.7 431.8h.8M108.8 410.3h.8M113.6 414.8h.8M108.2 436.6h.8M102.2 437.6h.8M103.5 429.9h.8M85.2 438.9h.8M118.9 415.3h.8M108.2 425.4h.8M109.4 430.7h.8M110.4 435.7h.8M108.0 430.8h.8M112.9 432.6h.8M107.0 431.5h.8M115.3 431.2h.8M104.3 425.5h.8M111.9 428.9h.8M105.6 436.4h.8M103.1 421.3h.8M109.3 435.4h.8M107.9 428.5h.8M105.9 441.2h.8M103.2 430.4h.8M105.8 444.3h.8M115.6 432.5h.8M105.8 430.0h.8M111.4 436.3h.8M108.3 433.6h.8M112.9 432.4h.8M120.9 429.7h.8M106.1 433.3h.8M115.0 427.0h.8M112.6 429.9h.8M102.3 420.6h.8M102.8 433.4h.8M97.4 435.5h.8M113.1 423.0h.8M99.2 439.0h.8M107.6 419.8h.8M120.2 432.3h.8M96.5 432.1h.8M95.1 437.1h.8M113.0 415.5h.8M114.4 424.9h.8M101.2 441.4h.8M106.2 433.6h.8M111.3 427.4h.8M105.9 429.1h.8M97.9 425.7h.8M108.9 428.4h.8M109.0 435.7h.8M113.2 421.6h.8M104.2 441.9h.8M108.5 434.5h.8M118.3 428.0h.8M108.8 427.9h.8M100.7 440.5h.8M104.0 431.0h.8M103.2 434.3h.8M103.7 448.0h.8M105.9 422.6h.8M109.9 434.2h.8M122.9 431.2h.8M99.6 435.6h.8M115.4 430.7h.8M90.1 440.9h.8M112.2 434.0h.8M102.8 428.5h.8M88.2 447.3h.8M121.0 433.7h.8M119.7 432.4h.8M110.9 422.2h.8M121.6 417.5h.8M101.9 428.4h.8M107.2 439.1h.8M105.4 435.0h.8M99.0 438.3h.8M109.5 427.7h.8M117.4 420.6h.8M116.4 424.2h.8M120.4 433.1h.8M108.9 431.1h.8M107.4 437.8h.8M108.7 437.0h.8M98.6 450.2h.8M106.7 437.9h.8M102.2 440.3h.8M112.3 427.1h.8M97.8 431.0h.8M107.5 421.6h.8M114.6 424.6h.8M100.9 429.1h.8M104.7 436.5h.8M107.1 427.9h.8M100.7 430.7h.8M102.5 430.8h.8M109.3 421.8h.8M116.5 430.6h.8M103.3 443.8h.8M102.1 423.3h.8M99.2 440.0h.8M106.2 440.8h.8M102.2 431.7h.8M102.3 426.4h.8M97.5 436.2h.8M111.5 424.9h.8M112.2 430.4h.8M103.4 441.4h.8M89.5 426.8h.8M96.4 429.9h.8M106.5 429.4h.8M114.7 429.2h.8M109.9 423.9h.8M96.2 441.1h.8M107.6 426.4h.8M117.2 421.7h.8M106.0 425.7h.8M96.5 434.5h.8M105.9 447.2h.8M115.0 431.9h.8M114.5 438.5h.8M112.9 435.4h.8M116.3 434.8h.8M110.6 429.6h.8M107.7 431.8h.8M114.2 435.6h.8M93.6 450.8h.8M104.4 440.5h.8M119.0 435.7h.8M106.1 439.7h.8M99.9 438.7h.8M110.3 435.9h.8M98.0 436.5h.8M100.7 434.8h.8M118.6 435.2h.8M101.4 440.0h.8M104.9 426.8h.8M106.1 422.5h.8M106.1 435.5h.8M113.1 427.7h.8M120.3 429.7h.8M111.2 427.8h.8M92.0 443.1h.8M108.5 429.6h.8M103.7 441.5h.8M118.9 423.7h.8M93.3 460.5h.8M101.5 441.3h.8M109.5 438.0h.8M97.5 434.6h.8M89.9 435.9h.8M109.6 439.8h.8M108.3 424.3h.8M97.9 437.1h.8M102.0 448.7h.8M114.1 424.6h.8M97.8 439.8h.8M111.8 425.3h.8M99.4 446.5h.8M105.4 426.3h.8M117.8 419.2h.8M104.7 435.7h.8M117.9 426.3h.8M127.2 431.8h.8M114.4 428.4h.8M106.0 426.2h.8M101.3 441.0h.8M105.4 428.2h.8M107.1 442.3h.8M84.6 437.4h.8M107.1 434.2h.8M94.7 439.8h.8M97.2 431.0h.8M111.3 425.6h.8M116.2 430.5h.8M108.2 436.4h.8M100.4 441.3h.8M99.2 428.1h.8M93.0 459.0h.8M104.5 440.4h.8M107.2 427.5h.8M109.5 433.4h.8M107.8 427.1h.8M98.8 446.5h.8M105.7 446.2h.8M107.5 430.7h.8M111.9 434.2h.8M110.4 436.6h.8M105.6 426.8h.8M109.8 414.7h.8M105.1 439.5h.8M100.7 437.9h.8M113.7 415.0h.8M101.8 452.5h.8M97.8 439.8h.8M105.5 431.0h.8M120.3 421.7h.8M93.0 431.5h.8M112.6 432.2h.8M104.0 452.2h.8M94.0 449.8h.8M102.3 428.3h.8M109.7 435.4h.8M93.8 430.9h.8M97.0 444.4h.8M104.1 429.7h.8M102.5 433.3h.8M111.9 426.5h.8M105.6 436.0h.8M103.0 439.8h.8M104.4 433.5h.8M107.5 417.6h.8M101.7 433.2h.8M104.8 427.2h.8M105.8 430.9h.8M108.4 438.2h.8M105.1 421.1h.8M108.3 425.6h.8M110.6 431.6h.8M94.5 442.9h.8M110.8 432.4h.8M95.7 434.7h.8M89.0 439.2h.8M98.6 419.1h.8M103.4 437.4h.8M103.6 435.2h.8M109.6 436.1h.8M116.4 426.8h.8M101.7 433.8h.8M106.4 437.5h.8M110.6 430.6h.8M101.1 441.5h.8M97.5 427.8h.8M96.6 436.8h.8M104.7 439.0h.8M104.0 433.5h.8M102.9 419.6h.8M97.2 432.1h.8M108.1 421.9h.8M98.7 434.5h.8M104.7 431.6h.8M102.3 431.7h.8M107.2 419.9h.8M101.0 430.1h.8M119.1 424.5h.8M121.2 425.7h.8M106.9 426.0h.8M113.3 420.1h.8M108.4 438.3h.8M96.8 438.6h.8M109.3 436.2h.8M113.5 430.7h.8M107.0 436.8h.8M108.4 414.8h.8M113.9 438.6h.8M108.1 429.7h.8M106.0 427.5h.8M100.8 431.2h.8M110.3 425.1h.8M107.3 436.6h.8M116.0 430.7h.8M109.9 435.8h.8M96.8 440.2h.8M106.7 432.1h.8M118.9 430.7h.8M105.2 431.5h.8M116.6 429.6h.8M109.6 426.0h.8M108.4 418.1h.8M99.3 420.6h.8M109.1 433.5h.8M109.9 437.7h.8M116.1 438.7h.8M104.5 431.2h.8M113.8 425.9h.8M117.4 424.0h.8M115.5 439.5h.8M107.0 440.3h.8M112.0 419.5h.8M98.9 438.2h.8M110.5 429.3h.8M108.6 432.9h.8M112.8 441.9h.8M100.4 428.3h.8M115.6 422.6h.8M104.3 438.1h.8M109.8 424.4h.8M102.3 435.0h.8M103.5 431.8h.8M112.0 439.9h.8M103.6 429.0h.8M101.9 440.3h.8M113.2 426.9h.8M94.0 429.9h.8M106.3 422.6h.8M94.4 433.3h.8M101.2 445.6h.8M104.4 422.2h.8M105.5 440.9h.8M117.2 437.0h.8M107.5 425.5h.8M102.2 433.4h.8M109.4 425.4h.8M102.4 423.2h.8M103.8 434.9h.8M99.4 432.3h.8M102.7 433.3h.8M107.4 430.8h.8M116.0 420.0h.8M110.2 419.1h.8M114.4 423.1h.8M108.0 422.9h.8M102.7 435.5h.8M106.5 433.0h.8M116.9 425.1h.8M106.9 449.8h.8M107.8 437.4h.8M104.4 430.0h.8M114.3 418.4h.8M112.8 431.1h.8M103.4 423.4h.8M122.9 429.0h.8M103.9 420.4h.8M118.2 431.1h.8M102.7 432.2h.8M112.9 431.7h.8M98.0 435.1h.8M93.6 436.7h.8M105.7 430.9h.8M103.2 443.4h.8M117.4 432.0h.8M123.9 422.0h.8M100.7 440.5h.8M105.9 426.2h.8M106.1 435.3h.8M108.5 435.6h.8M89.7 447.1h.8M107.5 429.7h.8M102.7 435.6h.8M107.3 432.3h.8M120.6 429.9h.8M113.3 433.7h.8M98.3 429.3h.8M102.1 440.0h.8M99.6 433.1h.8M110.1 444.5h.8M111.2 429.5h.8M100.3 430.7h.8M104.4 439.5h.8M105.8 429.6h.8M99.6 432.2h.8M120.0 417.5h.8M126.2 425.7h.8M115.6 423.2h.8M109.3 432.2h.8M109.9 440.7h.8M98.9 430.5h.8M114.3 425.1h.8M107.7 438.1h.8M92.5 434.5h.8M109.7 426.9h.8M109.4 438.9h.8M109.8 420.1h.8M97.6 435.5h.8M98.5 437.7h.8M104.2 440.2h.8M107.4 427.1h.8M116.0 427.6h.8M108.5 416.4h.8M104.8 430.5h.8M103.9 438.0h.8M100.0 441.1h.8M101.6 426.1h.8M107.9 422.6h.8M106.3 435.3h.8M104.3 433.7h.8M93.8 443.1h.8M101.7 444.8h.8M109.5 433.5h.8M115.7 420.6h.8M109.3 417.0h.8M102.6 434.2h.8M115.0 423.9h.8M110.1 433.2h.8M109.0 432.8h.8M102.7 428.1h.8M113.3 421.7h.8M104.0 427.7h.8M110.6 437.6h.8M116.9 427.2h.8M116.2 428.6h.8M121.0 422.5h.8M104.1 421.0h.8M95.2 433.9h.8M111.2 443.7h.8M107.3 424.6h.8M117.9 441.8h.8M108.2 433.4h.8M106.5 435.6h.8M100.8 446.5h.8M108.6 414.2h.8M108.6 436.9h.8M104.0 425.7h.8M116.1 430.7h.8M107.1 430.4h.8M108.5 417.9h.8M103.9 424.3h.8M97.8 429.7h.8M103.0 433.7h.8M115.9 428.5h.8M111.8 442.8h.8M108.1 431.0h.8M103.0 432.7h.8M96.6 447.1h.8M108.7 432.3h.8M102.7 420.6h.8M109.2 438.3h.8M103.6 436.0h.8M114.0 430.7h.8M116.8 428.3h.8M109.1 424.7h.8M99.1 421.6h.8M106.5 434.4h.8M105.3 425.8h.8M99.1 440.6h.8M100.4 435.2h.8M113.5 422.1h.8M105.6 432.1h.8M88.7 450.4h.8M109.0 427.5h.8M108.5 437.2h.8M100.4 429.3h.8M100.1 428.3h.8M96.4 451.7h.8M108.4 430.1h.8M101.9 445.9h.8M119.3 427.4h.8M107.3 442.6h.8M101.2 433.8h.8M119.5 434.5h.8M117.0 423.6h.8M96.2 430.7h.8M112.4 436.7h.8M107.3 438.9h.8M103.6 440.2h.8M109.7 424.6h.8M87.0 432.6h.8M101.5 438.6h.8M103.6 429.3h.8M103.2 432.8h.8M117.0 416.8h.8M100.1 438.6h.8M104.8 438.9h.8M106.3 429.6h.8M101.6 431.2h.8M112.2 437.7h.8M113.1 427.0h.8M116.1 425.6h.8M108.4 426.9h.8M100.7 456.0h.8M94.8 435.3h.8M93.3 442.3h.8M110.1 422.6h.8M112.7 428.9h.8M105.9 431.3h.8M105.7 426.7h.8M109.3 435.8h.8M102.3 434.6h.8M104.7 447.9h.8M107.6 436.7h.8M118.2 442.7h.8M106.5 435.2h.8M120.2 433.0h.8M103.2 432.6h.8M103.8 424.6h.8M117.2 428.0h.8M111.7 428.6h.8M95.8 432.6h.8M107.9 439.3h.8M109.0 437.7h.8M110.2 423.6h.8M112.0 420.7h.8M99.0 432.9h.8M105.9 438.2h.8M106.0 433.1h.8M115.8 425.5h.8M108.9 429.6h.8M105.9 444.6h.8M104.0 432.2h.8M106.3 428.1h.8M109.4 433.1h.8M113.9 432.3h.8M101.9 442.6h.8M102.3 443.9h.8M105.9 439.1h.8M110.6 435.0h.8M113.0 440.7h.8M111.9 433.9h.8M122.4 438.5h.8M101.9 436.9h.8M96.6 450.5h.8M107.0 431.0h.8M98.5 441.9h.8M112.4 434.2h.8M110.9 426.9h.8M109.2 433.4h.8M109.3 427.8h.8M110.5 422.4h.8M105.0 437.1h.8M113.3 426.7h.8M106.4 427.5h.8M117.2 441.0h.8M106.6 430.3h.8M111.3 433.6h.8M113.7 423.8h.8M107.3 438.8h.8M114.0 433.1h.8M92.5 432.5h.8M108.5 419.2h.8M111.0 420.3h.8M92.9 440.0h.8M110.9 421.5h.8M91.3 441.8h.8M116.2 423.9h.8M103.9 428.5h.8M101.3 428.9h.8M104.1 429.1h.8M114.5 436.3h.8M86.9 428.6h.8M102.2 425.6h.8M104.5 418.2h.8M112.6 430.0h.8M116.2 438.3h.8M101.7 430.3h.8M95.2 446.8h.8M104.8 421.7h.8M105.5 440.8h.8M102.5 448.8h.8M99.8 421.3h.8M94.7 435.6h.8M111.5 430.6h.8M130.0 424.7h.8M105.6 431.8h.8M109.1 410.7h.8M117.7 415.3h.8M105.4 420.4h.8M107.8 427.1h.8M108.0 434.7h.8M91.5 434.3h.8M114.7 442.2h.8M108.5 430.2h.8M99.2 424.7h.8M107.7 433.6h.8M103.4 437.4h.8M103.8 434.5h.8M120.8 408.3h.8M93.5 431.7h.8M107.4 423.1h.8M106.7 424.1h.8M103.6 422.4h.8M105.6 420.3h.8M104.5 435.6h.8M98.8 434.0h.8M113.4 427.6h.8M97.4 419.0h.8M118.6 426.9h.8M103.5 430.5h.8M105.0 431.0h.8M111.4 422.4h.8M98.1 437.5h.8M106.0 432.3h.8M110.8 440.7h.8M102.4 442.1h.8M114.6 448.8h.8M118.3 427.6h.8M100.8 435.4h.8M88.5 444.8h.8M100.0 435.3h.8M103.1 434.4h.8M107.5 431.2h.8M104.9 450.0h.8M100.0 427.6h.8M114.7 419.2h.8M118.9 413.8h.8M131.8 413.1h.8M122.3 414.9h.8M121.7 421.5h.8M119.7 425.8h.8M103.4 417.7h.8M129.7 403.1h.8M128.3 413.6h.8M111.5 443.9h.8M114.9 411.1h.8M123.9 419.8h.8M122.7 421.4h.8M113.0 428.2h.8M121.0 422.1h.8M118.7 426.3h.8M115.6 410.5h.8M109.6 411.5h.8M109.6 428.4h.8M114.0 426.1h.8M118.3 414.0h.8M128.7 409.2h.8M113.7 426.9h.8M124.5 416.3h.8M118.2 404.4h.8M110.4 426.6h.8M133.7 414.2h.8M122.1 415.5h.8M106.5 423.8h.8M123.2 416.2h.8M119.9 411.1h.8M122.0 408.7h.8M127.2 416.8h.8M117.1 419.4h.8M95.4 432.0h.8M122.1 422.6h.8M108.6 430.1h.8M122.6 418.0h.8M121.3 422.4h.8M116.1 422.7h.8M113.5 419.6h.8M118.6 417.2h.8M117.1 409.5h.8M122.5 411.1h.8M122.4 420.2h.8M115.2 417.2h.8M122.9 415.9h.8M118.7 431.6h.8M117.6 410.9h.8M127.8 417.6h.8M117.9 417.5h.8M113.3 422.7h.8M122.3 420.6h.8M109.6 423.9h.8M125.7 416.3h.8M110.5 421.8h.8M124.7 412.7h.8M130.3 404.8h.8M109.5 421.6h.8M117.5 417.0h.8M124.3 419.2h.8M114.0 426.4h.8M132.2 408.4h.8M126.9 405.1h.8M112.5 424.5h.8M126.9 414.7h.8M106.4 432.2h.8M111.8 423.9h.8M109.6 432.0h.8M121.4 427.3h.8M117.9 417.9h.8M121.6 424.4h.8M128.4 420.0h.8M121.1 410.8h.8M126.0 400.7h.8M120.9 412.9h.8M125.6 420.2h.8M126.2 403.4h.8M123.1 422.2h.8M126.3 403.2h.8M110.5 423.8h.8M130.9 401.7h.8M124.0 414.6h.8M112.0 418.3h.8M137.1 392.0h.8M116.0 415.1h.8M115.3 416.7h.8M128.9 413.0h.8M114.2 425.1h.8M123.6 409.1h.8M132.7 410.8h.8M125.4 414.5h.8M119.3 414.8h.8M115.4 424.8h.8M112.3 424.8h.8M117.2 424.6h.8M123.9 416.7h.8M129.2 409.4h.8M123.7 409.0h.8M115.0 425.3h.8M116.7 424.1h.8M111.0 413.2h.8M111.2 415.1h.8M127.9 416.9h.8M104.1 432.6h.8M105.7 430.0h.8M124.3 407.3h.8M119.8 418.9h.8M122.7 415.4h.8M118.5 421.8h.8M129.2 409.2h.8M126.9 416.9h.8M121.5 426.2h.8M116.1 416.0h.8M123.7 415.6h.8M124.9 412.7h.8M121.0 412.8h.8M133.2 419.6h.8M109.4 424.4h.8M110.3 410.7h.8M120.9 420.0h.8M126.2 403.2h.8M128.7 400.1h.8M115.9 416.0h.8M117.3 424.0h.8M117.7 421.5h.8M126.4 411.8h.8M123.9 415.5h.8M136.2 417.7h.8M118.1 417.6h.8M109.7 421.9h.8M116.0 411.0h.8M122.9 407.1h.8M123.6 420.9h.8M120.6 419.6h.8M123.3 415.9h.8M143.9 397.3h.8M128.6 408.7h.8M114.9 415.7h.8M124.9 420.1h.8M123.1 413.8h.8M107.5 432.0h.8M117.0 426.9h.8M121.5 411.8h.8M109.5 412.4h.8M124.9 415.0h.8M121.8 415.0h.8M113.9 438.4h.8M103.7 421.3h.8M120.1 418.8h.8M112.8 418.0h.8M113.2 411.2h.8M117.8 405.5h.8M117.8 416.3h.8M118.2 420.4h.8M112.5 431.7h.8M117.3 425.8h.8M125.8 406.2h.8M123.5 404.4h.8M121.1 406.4h.8M113.3 418.9h.8M120.3 420.6h.8M118.0 400.8h.8M107.4 419.0h.8M128.1 412.5h.8M120.0 413.3h.8M123.6 414.6h.8M112.6 426.4h.8M121.7 407.5h.8M119.3 408.1h.8M114.6 424.4h.8M117.9 410.9h.8M118.8 413.8h.8M112.3 409.3h.8M107.7 433.6h.8M133.1 396.5h.8M109.1 430.4h.8M114.6 429.7h.8M114.3 409.7h.8M119.9 410.9h.8M125.0 408.0h.8M115.5 423.5h.8M123.0 414.7h.8M117.7 422.8h.8M115.7 431.2h.8M120.9 418.3h.8M114.5 412.1h.8M121.8 414.3h.8M117.7 428.8h.8M125.7 416.1h.8M126.8 416.3h.8M121.1 415.7h.8M127.2 409.9h.8M116.9 418.7h.8M113.5 411.1h.8M120.7 420.1h.8M116.3 417.6h.8M118.5 412.6h.8M102.1 420.0h.8M130.5 402.3h.8M112.5 425.5h.8M131.4 419.8h.8M126.1 420.7h.8M117.0 408.9h.8M131.9 412.9h.8M124.1 403.1h.8M115.9 417.8h.8M129.9 405.7h.8M122.2 418.3h.8M135.3 413.8h.8M131.9 408.3h.8M131.8 414.1h.8M117.1 425.5h.8M131.2 414.8h.8M126.0 413.7h.8M128.3 407.7h.8M123.4 413.2h.8M131.6 403.6h.8M111.8 410.9h.8M117.7 413.9h.8M115.0 421.7h.8M106.7 433.8h.8M122.4 426.0h.8M107.4 424.2h.8M128.5 417.6h.8M133.1 404.4h.8M116.9 418.6h.8M120.1 430.1h.8M111.0 418.8h.8M131.8 413.7h.8M126.7 407.0h.8M122.6 412.5h.8M126.4 416.2h.8M117.7 425.6h.8M115.4 417.5h.8M106.7 421.3h.8M118.8 423.2h.8M122.2 409.7h.8M122.4 422.3h.8M120.8 429.0h.8M122.1 404.4h.8M128.5 400.5h.8M118.8 411.7h.8M126.4 409.9h.8M113.3 407.4h.8M116.1 433.8h.8M111.5 421.8h.8M128.1 408.2h.8M124.0 411.4h.8M123.9 415.8h.8M119.9 416.7h.8M117.4 401.1h.8M107.6 429.1h.8M116.1 413.7h.8M122.8 405.9h.8M128.4 413.0h.8M103.6 424.9h.8M130.7 409.9h.8M124.6 404.5h.8M102.5 433.0h.8M109.7 420.8h.8M119.2 424.0h.8M112.1 429.2h.8M128.5 410.5h.8M100.8 424.7h.8M127.6 400.1h.8M121.9 424.3h.8M108.5 427.6h.8M131.7 409.5h.8M121.1 417.3h.8M116.5 417.0h.8M134.4 402.1h.8M120.4 406.7h.8M119.0 419.2h.8M108.0 423.8h.8M119.6 422.6h.8M123.9 418.5h.8M115.3 425.5h.8M129.3 405.5h.8M128.9 416.7h.8M101.6 426.3h.8M124.0 424.1h.8M116.9 415.5h.8M113.8 432.6h.8M125.2 417.2h.8M120.6 407.4h.8M124.3 414.3h.8M122.3 418.7h.8M118.0 416.6h.8M114.3 416.0h.8M136.9 397.9h.8M118.6 411.4h.8M124.6 412.2h.8M113.2 417.3h.8M121.5 410.1h.8M112.9 420.9h.8M125.3 410.8h.8M114.8 405.0h.8M106.9 429.4h.8M118.9 429.7h.8M116.4 416.7h.8M125.0 419.5h.8M114.1 429.4h.8M123.5 418.8h.8M104.3 423.1h.8M115.9 423.5h.8M119.3 422.5h.8M121.4 417.1h.8M128.3 415.2h.8M103.6 422.4h.8M116.4 414.8h.8M124.5 405.6h.8M126.5 420.8h.8M106.9 426.1h.8M121.5 409.5h.8M119.2 435.8h.8M118.8 428.3h.8M125.1 418.3h.8M131.5 405.9h.8M113.3 418.3h.8M125.5 416.6h.8M116.8 404.4h.8M114.0 426.9h.8M121.8 430.7h.8M120.7 409.5h.8M123.8 407.6h.8M108.6 432.4h.8M121.0 425.2h.8M110.6 422.9h.8M110.3 413.0h.8M130.5 418.5h.8M120.0 405.8h.8M125.1 419.9h.8M135.5 406.5h.8M127.3 422.8h.8M119.8 431.4h.8M121.4 404.4h.8M123.2 423.7h.8M118.1 415.8h.8M116.0 432.0h.8M116.5 415.2h.8M118.6 414.6h.8M123.1 433.8h.8M125.5 416.8h.8M120.8 418.6h.8M125.9 415.0h.8M128.2 405.0h.8M120.5 410.4h.8M124.3 407.1h.8M112.5 432.2h.8M128.7 400.4h.8M121.3 410.7h.8M119.1 423.6h.8M111.5 418.2h.8M114.8 408.3h.8M115.1 406.9h.8M127.5 416.4h.8M128.6 401.7h.8M126.0 406.4h.8M117.4 418.6h.8M118.5 429.0h.8M117.0 425.1h.8M112.6 427.6h.8M113.4 408.0h.8M130.8 402.0h.8M126.0 410.1h.8M122.4 413.5h.8M116.6 420.6h.8M109.6 426.9h.8M122.8 422.1h.8M115.6 417.7h.8M114.1 420.5h.8M116.8 407.3h.8M114.2 425.5h.8M116.7 407.9h.8M118.4 412.1h.8M113.9 429.9h.8M130.8 404.1h.8M135.5 401.5h.8M125.0 423.5h.8M122.6 410.6h.8M131.0 399.9h.8M124.4 422.7h.8M115.6 414.3h.8M119.2 406.9h.8M125.2 409.7h.8M122.8 411.2h.8M105.2 422.0h.8M126.5 416.7h.8M121.0 412.6h.8M119.8 404.2h.8M100.0 439.1h.8M132.8 407.1h.8M108.0 430.5h.8M120.5 412.8h.8M115.5 426.8h.8M118.0 412.7h.8M131.5 398.1h.8M126.3 428.5h.8M126.8 408.3h.8M123.5 420.4h.8M131.7 416.0h.8M120.1 415.3h.8M116.3 410.1h.8M119.0 417.0h.8M131.5 414.3h.8M118.0 418.6h.8M128.9 411.3h.8M123.1 408.9h.8M117.5 432.9h.8M111.1 427.6h.8M118.2 412.6h.8M127.1 411.6h.8M122.8 405.4h.8M120.8 411.3h.8M111.0 425.7h.8M119.0 428.4h.8M117.4 418.9h.8M121.1 417.9h.8M113.4 424.0h.8M121.6 426.7h.8M114.5 411.3h.8M122.1 423.0h.8M120.9 400.2h.8M119.2 419.5h.8M108.9 405.8h.8M116.6 412.4h.8M130.2 418.5h.8M118.7 429.1h.8M122.1 412.7h.8M131.6 402.9h.8M121.5 413.8h.8M111.1 408.3h.8M115.5 409.7h.8M130.1 407.9h.8M125.6 412.1h.8M120.0 415.1h.8M122.1 417.8h.8M130.2 404.8h.8M117.1 405.7h.8M119.4 408.3h.8M123.6 402.0h.8M136.1 407.0h.8M131.4 400.6h.8M112.4 432.6h.8M111.9 427.8h.8M115.5 431.6h.8M121.1 413.6h.8M116.3 423.7h.8M119.1 417.1h.8M120.9 417.2h.8M131.9 414.3h.8M116.5 420.1h.8M120.0 421.4h.8M116.6 419.4h.8M128.1 407.0h.8M116.9 417.6h.8M126.7 424.4h.8M123.2 415.5h.8M114.0 419.2h.8M122.6 417.9h.8M114.4 439.4h.8M120.6 416.7h.8M121.6 412.3h.8M122.5 424.2h.8M114.2 425.8h.8M110.1 423.5h.8M119.7 432.7h.8M126.3 423.5h.8M133.7 406.4h.8M120.7 417.7h.8M122.6 428.5h.8M105.4 428.9h.8M116.9 401.6h.8M109.0 426.6h.8M116.4 414.0h.8M113.9 418.5h.8M122.7 407.4h.8M129.2 405.3h.8M132.0 406.2h.8M141.4 411.4h.8M123.4 418.8h.8M115.7 413.3h.8M123.8 410.4h.8M136.2 407.2h.8M108.9 418.5h.8M130.7 420.2h.8M127.0 417.4h.8M123.9 401.1h.8M111.3 417.0h.8M111.2 420.4h.8M123.9 412.2h.8M112.8 428.9h.8M108.9 436.7h.8M104.0 427.8h.8M124.6 431.8h.8M121.9 410.6h.8M108.1 414.1h.8M124.3 410.0h.8M128.6 430.8h.8M118.8 409.7h.8M122.5 425.6h.8M126.8 421.9h.8M116.8 414.1h.8M127.8 403.5h.8M118.0 412.6h.8M129.6 406.2h.8M116.1 428.9h.8M116.3 429.4h.8M117.8 416.4h.8M120.6 415.0h.8M116.1 418.1h.8M122.0 407.0h.8M130.0 405.3h.8M111.4 413.4h.8M119.4 413.6h.8M113.9 416.3h.8M121.9 422.8h.8M121.5 418.3h.8M126.5 410.9h.8M121.6 416.2h.8M124.7 415.7h.8M132.5 411.9h.8M120.7 421.8h.8M123.6 411.1h.8M124.2 413.6h.8M120.5 425.7h.8M120.3 420.8h.8M120.2 413.2h.8M126.2 408.9h.8M120.1 425.8h.8M118.8 414.9h.8M130.7 400.2h.8M122.5 396.6h.8M108.7 421.3h.8M121.0 403.2h.8M115.9 413.7h.8M117.5 420.6h.8M112.6 410.9h.8M114.7 415.3h.8M123.4 418.1h.8M118.6 412.5h.8M113.1 420.3h.8M119.5 424.9h.8M122.3 415.4h.8M121.1 429.4h.8M119.1 415.6h.8M116.5 419.6h.8M109.4 427.7h.8M121.3 412.3h.8M116.1 421.2h.8M116.3 412.2h.8M120.6 413.5h.8M112.1 419.7h.8M129.0 408.5h.8M122.5 410.4h.8M125.1 420.8h.8M138.2 408.0h.8M123.4 415.2h.8M128.5 408.5h.8M117.7 414.3h.8M124.9 414.4h.8M122.4 409.8h.8M128.0 410.1h.8M121.4 418.1h.8M114.0 422.5h.8M116.4 408.9h.8M116.5 417.9h.8M127.2 407.6h.8M119.8 415.6h.8M120.1 425.1h.8M125.8 407.0h.8M124.8 420.9h.8M115.8 412.0h.8M117.0 428.5h.8M120.5 403.2h.8M131.4 405.7h.8M126.7 413.9h.8M124.6 413.4h.8M115.5 410.8h.8M123.0 414.5h.8M119.2 415.2h.8M116.1 420.0h.8M117.0 406.9h.8M112.9 436.7h.8M109.1 423.8h.8M133.5 396.3h.8M115.9 412.1h.8M106.5 436.7h.8M101.1 441.1h.8M119.1 422.1h.8M124.4 415.5h.8M126.5 407.6h.8M111.6 405.7h.8M113.5 417.3h.8M110.0 419.4h.8M125.0 408.3h.8M119.1 403.7h.8M128.0 405.4h.8M115.1 413.6h.8M113.9 430.1h.8M120.5 410.9h.8M123.5 396.2h.8M120.0 412.6h.8M113.1 427.6h.8M122.5 415.1h.8M117.8 414.2h.8M116.8 425.8h.8M104.9 427.3h.8M121.0 430.1h.8M125.4 411.0h.8M127.2 409.9h.8M129.4 397.3h.8M120.4 414.9h.8M115.4 415.7h.8M133.4 401.8h.8M111.2 423.4h.8M132.4 412.5h.8M120.1 425.0h.8M121.2 410.5h.8M120.4 425.8h.8M132.5 417.2h.8M124.4 411.8h.8M127.0 398.2h.8M117.8 422.0h.8M121.4 420.9h.8M116.5 412.9h.8M112.2 429.2h.8M125.6 402.4h.8M118.6 425.4h.8M121.7 428.2h.8M126.4 407.1h.8M121.9 426.4h.8M119.9 421.1h.8M131.9 404.2h.8M116.2 412.4h.8M124.6 411.7h.8M101.6 429.7h.8M125.3 413.0h.8M123.4 420.1h.8M120.9 428.1h.8M120.8 410.9h.8M117.8 412.8h.8M122.6 411.9h.8M112.4 421.8h.8M124.2 405.2h.8M129.2 408.0h.8M109.2 420.5h.8M115.6 420.4h.8M118.8 417.9h.8M120.7 420.3h.8M101.8 424.9h.8M129.1 420.7h.8M119.4 427.1h.8M126.2 430.0h.8M116.5 407.0h.8M115.5 416.2h.8M128.6 415.5h.8M134.0 411.9h.8M118.2 422.1h.8M126.8 406.2h.8M122.6 419.9h.8M120.3 415.7h.8M118.5 406.5h.8M124.2 410.6h.8M112.5 412.9h.8M121.2 415.0h.8M123.9 397.6h.8M123.7 412.3h.8M112.0 418.3h.8M113.4 417.2h.8M115.1 422.4h.8M121.7 412.9h.8M119.8 413.5h.8M118.1 428.7h.8M111.7 412.3h.8M123.1 420.3h.8M116.1 421.6h.8M129.1 408.8h.8M122.5 411.5h.8M121.8 422.1h.8M122.1 419.9h.8M130.3 417.5h.8M123.4 405.3h.8M117.2 407.5h.8M130.5 416.8h.8M118.5 414.7h.8M120.7 425.3h.8M120.4 411.6h.8M118.6 420.6h.8M119.4 422.2h.8M115.3 413.8h.8M112.2 430.2h.8M128.0 402.8h.8M117.5 412.8h.8M119.2 428.0h.8M116.5 433.9h.8M117.9 412.0h.8M120.4 421.8h.8M119.8 411.5h.8M129.3 420.1h.8M127.3 428.3h.8M124.9 417.1h.8M110.1 417.2h.8M125.6 404.6h.8M120.9 413.8h.8M116.9 421.3h.8M134.5 404.0h.8M115.5 421.2h.8M121.7 407.0h.8M115.0 424.5h.8M123.5 422.3h.8M122.4 417.3h.8M123.5 408.0h.8M115.2 422.4h.8M120.6 421.2h.8M112.9 417.2h.8M124.7 424.8h.8M112.3 420.2h.8M136.6 402.7h.8M119.3 420.3h.8M110.3 426.4h.8M118.6 416.1h.8M133.9 399.7h.8M121.1 407.8h.8M118.8 423.3h.8M126.0 402.1h.8M125.3 418.6h.8M122.9 408.0h.8M126.5 394.8h.8M123.5 409.4h.8M122.6 417.6h.8M120.8 413.3h.8M119.3 408.1h.8M124.0 415.7h.8M118.3 405.5h.8M113.5 421.8h.8M120.9 410.6h.8M123.3 412.8h.8M112.5 412.3h.8M135.6 407.0h.8M103.7 435.2h.8M118.3 423.3h.8M109.4 428.0h.8M121.9 418.5h.8M115.2 402.2h.8M123.6 401.4h.8M115.0 417.8h.8M115.1 413.4h.8M123.5 412.0h.8M126.1 414.3h.8M118.4 405.8h.8M115.7 417.7h.8M106.7 426.8h.8M129.2 412.6h.8M129.5 402.5h.8M115.7 434.2h.8M126.1 410.4h.8M132.6 412.4h.8M115.4 414.4h.8M113.3 419.8h.8M116.5 418.3h.8M112.7 407.3h.8M109.7 423.9h.8M132.1 409.5h.8M111.0 409.0h.8M138.1 417.1h.8M125.6 423.4h.8M124.7 416.3h.8M120.2 423.4h.8M123.6 415.6h.8M115.8 424.3h.8M125.8 415.8h.8M133.1 412.7h.8M123.9 414.4h.8M131.6 406.0h.8M121.7 425.7h.8M128.8 399.1h.8M115.2 426.0h.8M108.3 419.5h.8M130.7 419.3h.8M117.5 412.1h.8M118.1 415.1h.8M118.5 416.7h.8M124.1 416.9h.8M121.3 413.3h.8M122.6 418.8h.8M113.2 423.7h.8M134.6 417.2h.8M111.4 416.7h.8M128.1 411.4h.8M131.8 408.8h.8M107.6 416.9h.8M118.4 420.6h.8M114.7 432.5h.8M113.8 426.2h.8M105.2 427.8h.8M120.4 421.1h.8M113.3 419.3h.8M130.4 405.6h.8M122.6 399.0h.8M126.4 405.1h.8M108.7 426.2h.8M116.9 419.1h.8M110.4 432.2h.8M125.2 417.4h.8M114.8 409.2h.8M124.1 416.7h.8M142.4 404.1h.8M113.1 422.5h.8M126.0 428.0h.8M118.1 412.0h.8M109.5 418.4h.8M118.0 409.0h.8M111.3 428.5h.8M120.9 397.9h.8M127.5 406.1h.8M123.6 416.9h.8M129.1 409.9h.8M129.2 421.7h.8M104.1 423.1h.8M119.5 415.4h.8M107.6 433.9h.8M138.0 404.6h.8M107.0 435.7h.8M117.8 421.3h.8M118.4 430.5h.8M110.3 424.3h.8M116.4 414.4h.8M111.4 423.3h.8M117.1 419.7h.8M125.2 409.0h.8M124.8 424.2h.8M117.1 413.7h.8M116.6 421.7h.8M115.3 434.5h.8M117.0 409.4h.8M125.1 424.0h.8M124.3 424.2h.8M110.5 412.9h.8M122.3 414.6h.8M127.5 409.4h.8M121.1 413.3h.8M128.6 417.4h.8M120.5 408.2h.8M118.0 442.7h.8M108.7 419.1h.8M117.3 414.3h.8M119.5 409.4h.8M118.7 423.3h.8M119.7 411.7h.8M121.9 410.9h.8M112.6 417.0h.8M118.3 409.6h.8M101.1 433.7h.8M105.0 435.3h.8M115.7 421.4h.8M118.5 421.2h.8M119.7 413.9h.8M125.9 430.5h.8M113.2 421.1h.8M113.3 421.9h.8M121.8 422.3h.8M119.9 402.2h.8M119.6 417.5h.8M131.1 412.9h.8M110.2 420.0h.8M127.3 410.8h.8M114.0 421.6h.8M113.9 429.2h.8M128.9 425.8h.8M120.3 409.5h.8M132.2 412.3h.8M115.9 429.2h.8M103.9 420.7h.8M115.6 425.3h.8M119.3 413.5h.8M133.0 408.2h.8M124.5 409.0h.8M112.5 425.4h.8M105.1 422.8h.8M111.6 419.3h.8M130.2 407.9h.8M114.2 423.3h.8M110.1 422.2h.8M124.2 417.4h.8M113.0 419.8h.8M104.5 423.0h.8M116.2 423.4h.8M107.8 419.0h.8M119.4 405.9h.8M123.4 411.0h.8M127.1 400.8h.8M120.1 411.2h.8M123.1 409.7h.8M125.7 422.7h.8M137.5 403.9h.8M110.4 436.0h.8M126.2 397.2h.8M115.4 420.5h.8M128.2 422.7h.8M116.8 418.3h.8M131.9 410.7h.8M113.4 439.5h.8M121.6 413.6h.8M120.3 414.8h.8M123.6 423.6h.8M121.0 411.7h.8M118.2 408.0h.8M122.6 433.6h.8M100.6 424.4h.8M113.0 422.7h.8M116.9 414.4h.8M141.0 392.1h.8M121.5 419.7h.8M119.3 412.9h.8M108.8 420.3h.8M124.9 405.9h.8M120.3 418.1h.8M107.6 427.8h.8M116.4 425.9h.8M129.7 411.3h.8M113.3 418.1h.8M133.8 403.6h.8M129.2 409.6h.8M120.2 411.9h.8M109.0 422.6h.8M130.4 401.8h.8M126.5 417.9h.8M130.2 401.8h.8M109.3 424.5h.8M114.3 430.4h.8M101.7 429.5h.8M135.7 400.6h.8M118.6 423.6h.8M114.3 419.4h.8M132.8 407.8h.8M130.2 418.4h.8M129.3 404.4h.8M109.4 417.5h.8M113.6 413.2h.8M119.3 402.7h.8M115.1 422.8h.8M123.0 414.1h.8M132.0 406.4h.8M120.2 404.2h.8M112.6 435.3h.8M117.0 425.5h.8M123.0 413.9h.8M122.4 417.3h.8M63.0 469.6h.8M91.7 447.4h.8M82.2 447.6h.8M81.5 440.9h.8M89.1 465.5h.8M82.2 448.4h.8M78.5 448.6h.8M66.5 471.6h.8M159.2 453.2h.8M70.7 461.0h.8M90.2 439.5h.8M62.4 460.7h.8M120.2 448.9h.8M78.1 456.1h.8M83.5 449.7h.8M81.9 452.3h.8M97.8 478.2h.8M83.1 450.0h.8M76.5 447.9h.8M83.6 473.6h.8M94.0 475.0h.8M101.9 465.4h.8M85.8 453.6h.8M71.4 457.7h.8M70.0 445.4h.8M69.4 474.6h.8M85.9 460.2h.8M85.7 450.6h.8M74.3 456.4h.8M80.1 460.4h.8M94.8 450.4h.8M85.4 447.9h.8M78.6 472.1h.8M96.1 447.6h.8M102.1 452.1h.8M74.3 446.2h.8M80.4 461.4h.8M103.3 468.1h.8M89.2 441.0h.8M83.2 448.0h.8M114.8 470.9h.8M107.7 449.9h.8M92.4 468.1h.8M72.9 451.9h.8M68.6 469.9h.8M70.9 457.4h.8M82.3 464.8h.8M65.9 449.6h.8M75.6 473.3h.8M91.4 449.0h.8M113.6 448.2h.8M92.7 465.4h.8M89.4 475.8h.8M74.4 452.7h.8M90.8 456.5h.8M89.9 461.0h.8M87.0 459.7h.8M99.4 450.4h.8M66.1 473.8h.8M74.3 445.9h.8M89.5 455.4h.8M73.9 465.7h.8M64.4 479.0h.8M76.4 453.0h.8M78.0 455.0h.8M92.0 442.5h.8M88.0 434.2h.8M100.0 454.5h.8M83.3 454.7h.8M94.5 458.5h.8M86.0 476.6h.8M82.2 454.7h.8M63.0 466.1h.8M66.1 445.3h.8M80.6 479.0h.8M92.4 472.3h.8M104.0 469.1h.8M81.0 475.7h.8M86.9 478.4h.8M94.5 453.1h.8M82.2 451.7h.8M98.5 430.6h.8M98.7 456.9h.8M82.7 460.9h.8M72.8 466.3h.8M117.2 446.1h.8M102.4 479.0h.8M79.8 450.4h.8M81.4 442.7h.8M68.6 471.9h.8M61.0 468.1h.8M86.9 460.0h.8M66.7 445.8h.8M90.5 465.2h.8M94.8 467.5h.8M71.7 461.8h.8M87.3 455.6h.8M76.4 458.7h.8M61.5 463.9h.8M87.2 448.6h.8M94.0 461.5h.8M75.9 461.1h.8M62.5 464.7h.8M73.4 438.6h.8M71.1 458.7h.8M96.8 449.0h.8M65.3 472.7h.8M92.1 459.7h.8M97.0 462.9h.8M75.1 459.2h.8M130.8 476.3h.8M83.7 461.0h.8M80.2 463.6h.8M98.0 446.9h.8M76.8 474.5h.8M88.9 456.7h.8M92.6 443.4h.8M92.0 466.9h.8M93.8 470.9h.8M80.9 459.2h.8M82.7 439.4h.8M76.8 454.8h.8M76.0 459.7h.8M80.9 451.5h.8M84.3 454.8h.8M85.4 465.2h.8M64.6 471.3h.8M70.1 425.8h.8M79.1 462.0h.8M79.8 449.0h.8M97.7 460.6h.8M77.7 457.7h.8M95.9 460.6h.8M108.2 453.9h.8M89.2 465.0h.8M76.3 455.7h.8M77.3 445.0h.8M86.8 447.5h.8M110.9 464.0h.8M77.5 456.2h.8M77.8 455.8h.8M76.8 441.0h.8M132.9 451.9h.8M100.2 459.7h.8M85.2 450.6h.8M81.9 458.2h.8M102.2 462.7h.8M73.7 467.8h.8M71.9 467.0h.8M62.9 479.5h.8M98.4 464.0h.8M93.8 444.6h.8M96.0 472.0h.8M63.6 469.6h.8M71.5 465.4h.8M86.7 455.3h.8M69.9 471.5h.8M86.8 479.8h.8M99.7 445.7h.8M93.2 445.3h.8M99.0 452.5h.8M97.2 471.1h.8M87.9 466.7h.8M73.6 456.2h.8M74.3 463.8h.8M78.6 472.0h.8M81.3 466.9h.8M72.0 455.0h.8M79.9 449.8h.8M84.1 476.7h.8M85.7 439.8h.8M86.1 443.4h.8M83.7 478.0h.8M89.5 478.8h.8M80.7 465.1h.8M78.3 437.4h.8M65.8 457.0h.8M68.1 456.8h.8M77.6 461.9h.8M71.8 468.2h.8M82.7 448.5h.8M65.8 441.9h.8M74.2 442.9h.8M72.3 443.7h.8M82.9 458.8h.8M65.4 475.9h.8M96.5 452.4h.8M69.7 432.4h.8M86.2 448.5h.8M68.0 471.2h.8M88.6 439.6h.8M73.0 456.0h.8M81.9 466.7h.8M75.6 434.8h.8M96.4 438.9h.8M72.8 459.1h.8M71.8 480.1h.8M67.6 468.5h.8M78.7 477.4h.8M89.4 448.1h.8M97.3 438.4h.8M78.1 473.9h.8M85.0 445.7h.8M100.9 470.0h.8M73.2 459.0h.8M79.5 470.7h.8M94.3 456.5h.8M82.3 456.3h.8M70.6 467.5h.8M83.0 451.5h.8M78.5 450.7h.8M99.8 457.2h.8M76.5 449.9h.8M78.7 439.1h.8M90.3 451.3h.8M71.2 448.5h.8M82.2 457.7h.8M80.2 452.1h.8M73.0 448.1h.8M89.0 460.1h.8M79.2 464.9h.8M102.7 444.3h.8M107.6 474.8h.8M84.8 474.9h.8M84.1 468.5h.8M66.5 476.0h.8M89.3 437.8h.8" stroke="#000" stroke-width="0.8" fill="none" opacity="0.9"/>
<rect x="59.50" y="372.50" width="121.75" height="108.75" fill="none" stroke="#3a3a3a" stroke-width="0.84"/>
<line x1="93.50" y1="372.50" x2="93.50" y2="481.25" stroke="#444" stroke-width="0.84"/>
<line x1="59.50" y1="438.25" x2="181.25" y2="438.25" stroke="#444" stroke-width="0.84"/>
<text x="67.50" y="386.50" font-size="9.5" font-weight="normal" text-anchor="start" stroke="#000" stroke-width="0.22">3%</text>
<text x="173.75" y="387.00" font-size="9.5" font-weight="normal" text-anchor="end" stroke="#000" stroke-width="0.22">55%</text>
<text x="68.00" y="473.25" font-size="9.5" font-weight="normal" text-anchor="start" stroke="#000" stroke-width="0.22">16%</text>
<text x="172.75" y="473.75" font-size="9.5" font-weight="normal" text-anchor="end" stroke="#000" stroke-width="0.22">26%</text>
<text x="166.80" y="364.20" font-size="9.7" font-weight="bold" text-anchor="middle" stroke="#000" stroke-width="0.34">wt</text>
<text x="60.00" y="486.25" font-size="4.0" font-weight="normal" text-anchor="middle" fill="#111">10<tspan font-size="2" dy="-1.2">0</tspan></text>
<line x1="58.00" y1="481.25" x2="59.50" y2="481.25" stroke="#444" stroke-width="0.6"/>
<line x1="59.50" y1="481.25" x2="59.50" y2="482.75" stroke="#444" stroke-width="0.6"/>
<text x="56.70" y="482.25" font-size="4.0" font-weight="normal" text-anchor="start" transform="rotate(-90 56.70 482.25)" fill="#111">10<tspan font-size="2" dy="-1.2">0</tspan></text>
<text x="90.44" y="486.25" font-size="4.0" font-weight="normal" text-anchor="middle" fill="#111">10<tspan font-size="2" dy="-1.2">1</tspan></text>
<line x1="58.00" y1="454.06" x2="59.50" y2="454.06" stroke="#444" stroke-width="0.6"/>
<line x1="89.94" y1="481.25" x2="89.94" y2="482.75" stroke="#444" stroke-width="0.6"/>
<text x="56.70" y="455.06" font-size="4.0" font-weight="normal" text-anchor="start" transform="rotate(-90 56.70 455.06)" fill="#111">10<tspan font-size="2" dy="-1.2">1</tspan></text>
<text x="120.88" y="486.25" font-size="4.0" font-weight="normal" text-anchor="middle" fill="#111">10<tspan font-size="2" dy="-1.2">2</tspan></text>
<line x1="58.00" y1="426.88" x2="59.50" y2="426.88" stroke="#444" stroke-width="0.6"/>
<line x1="120.38" y1="481.25" x2="120.38" y2="482.75" stroke="#444" stroke-width="0.6"/>
<text x="56.70" y="427.88" font-size="4.0" font-weight="normal" text-anchor="start" transform="rotate(-90 56.70 427.88)" fill="#111">10<tspan font-size="2" dy="-1.2">2</tspan></text>
<text x="151.31" y="486.25" font-size="4.0" font-weight="normal" text-anchor="middle" fill="#111">10<tspan font-size="2" dy="-1.2">3</tspan></text>
<line x1="58.00" y1="399.69" x2="59.50" y2="399.69" stroke="#444" stroke-width="0.6"/>
<line x1="150.81" y1="481.25" x2="150.81" y2="482.75" stroke="#444" stroke-width="0.6"/>
<text x="56.70" y="400.69" font-size="4.0" font-weight="normal" text-anchor="start" transform="rotate(-90 56.70 400.69)" fill="#111">10<tspan font-size="2" dy="-1.2">3</tspan></text>
<text x="181.75" y="486.25" font-size="4.0" font-weight="normal" text-anchor="middle" fill="#111">10<tspan font-size="2" dy="-1.2">4</tspan></text>
<line x1="58.00" y1="372.50" x2="59.50" y2="372.50" stroke="#444" stroke-width="0.6"/>
<line x1="181.25" y1="481.25" x2="181.25" y2="482.75" stroke="#444" stroke-width="0.6"/>
<text x="56.70" y="373.50" font-size="4.0" font-weight="normal" text-anchor="start" transform="rotate(-90 56.70 373.50)" fill="#111">10<tspan font-size="2" dy="-1.2">4</tspan></text>
<text x="118.38" y="490.15" font-size="3.4" font-weight="normal" text-anchor="middle" fill="#222">FITC</text>
<text x="50.90" y="427.88" font-size="4" font-weight="normal" text-anchor="middle" transform="rotate(-90 50.90 427.88)" fill="#222">FL4-H</text>
<path d="M237.4 453.5h.8M250.3 440.4h.8M239.0 455.4h.8M241.0 439.8h.8M245.0 457.8h.8M244.7 439.9h.8M245.7 432.8h.8M244.8 447.4h.8M255.6 428.9h.8M246.0 454.4h.8M243.7 445.0h.8M242.9 448.6h.8M242.0 442.3h.8M247.4 437.9h.8M233.7 456.6h.8M239.1 456.3h.8M238.1 456.2h.8M239.9 450.8h.8M257.4 423.3h.8M253.3 443.6h.8M239.9 446.3h.8M242.0 445.7h.8M248.9 447.9h.8M249.9 444.2h.8M253.8 434.3h.8M246.7 441.2h.8M250.5 441.0h.8M248.6 439.4h.8M246.2 435.6h.8M248.1 447.0h.8M245.0 439.5h.8M252.3 435.6h.8M243.9 440.8h.8M244.2 443.5h.8M247.4 446.3h.8M241.7 454.1h.8M239.6 438.0h.8M243.2 436.5h.8M244.0 438.8h.8M241.3 442.7h.8M252.6 434.6h.8M232.4 445.7h.8M240.6 441.8h.8M252.6 442.9h.8M245.7 424.5h.8M241.3 442.8h.8M248.5 447.4h.8M241.9 445.8h.8M245.3 436.4h.8M238.1 442.1h.8M237.4 449.2h.8M249.8 439.1h.8M240.9 460.8h.8M242.6 443.0h.8M254.7 437.9h.8M241.1 444.3h.8M254.0 453.3h.8M236.8 434.4h.8M252.1 441.4h.8M241.4 448.3h.8M251.2 427.2h.8M237.4 441.2h.8M235.3 441.7h.8M243.4 452.0h.8M240.5 437.3h.8M245.3 440.7h.8M239.9 460.5h.8M244.0 451.6h.8M247.9 442.8h.8M246.8 440.3h.8M242.1 448.0h.8M241.9 440.8h.8M243.1 449.9h.8M231.3 451.3h.8M250.6 436.4h.8M247.7 452.5h.8M243.8 444.3h.8M251.6 430.2h.8M251.9 457.7h.8M248.8 435.7h.8M236.8 456.7h.8M221.9 448.1h.8M245.9 436.8h.8M252.9 452.8h.8M250.5 450.9h.8M256.0 447.4h.8M234.9 449.1h.8M255.9 437.7h.8M233.9 454.3h.8M251.9 442.7h.8M244.3 452.6h.8M242.3 456.0h.8M245.9 435.5h.8M252.6 432.0h.8M247.9 449.5h.8M249.4 450.3h.8M233.8 456.5h.8M246.0 433.8h.8M248.2 436.1h.8M240.7 450.8h.8M247.5 451.5h.8M243.9 461.6h.8M243.3 445.6h.8M235.7 445.6h.8M242.1 443.2h.8M252.6 439.7h.8M232.7 457.7h.8M235.3 447.4h.8M240.8 441.0h.8M256.4 446.1h.8M249.9 442.8h.8M242.9 452.4h.8M243.1 438.4h.8M255.5 443.3h.8M252.3 456.3h.8M240.9 445.1h.8M239.8 450.7h.8M240.4 441.8h.8M244.4 453.8h.8M233.1 446.7h.8M248.9 438.8h.8M244.4 444.1h.8M245.8 445.1h.8M248.3 451.6h.8M234.0 446.2h.8M245.9 442.1h.8M242.9 447.3h.8M248.3 445.2h.8M243.7 444.0h.8M244.6 453.2h.8M244.8 455.7h.8M258.2 446.0h.8M245.7 449.4h.8M241.1 450.0h.8M248.2 438.0h.8M246.2 448.6h.8M239.4 444.5h.8M247.6 451.7h.8M243.9 457.6h.8M233.5 452.8h.8M246.5 444.2h.8M252.8 437.6h.8M243.4 438.7h.8M244.8 460.8h.8M236.2 450.1h.8M254.7 440.2h.8M249.9 439.7h.8M244.9 450.2h.8M250.9 453.0h.8M245.6 456.1h.8M236.6 437.2h.8M256.4 427.9h.8M238.9 459.0h.8M231.3 447.4h.8M249.6 443.9h.8M245.3 438.1h.8M239.9 458.6h.8M243.0 447.6h.8M246.1 446.0h.8M247.4 446.2h.8M233.6 448.3h.8M243.5 442.4h.8M238.4 457.5h.8M253.1 443.7h.8M250.1 439.4h.8M246.2 443.6h.8M239.5 441.4h.8M235.3 444.7h.8M245.1 453.8h.8M251.6 443.8h.8M238.4 446.2h.8M256.8 442.2h.8M237.5 437.6h.8M249.9 438.3h.8M242.9 450.9h.8M240.6 454.7h.8M243.9 447.7h.8M249.8 438.4h.8M233.4 453.4h.8M241.7 454.6h.8M245.0 447.8h.8M241.1 453.6h.8M255.5 432.4h.8M238.4 444.0h.8M243.5 438.9h.8M256.3 445.1h.8M240.0 451.7h.8M240.2 439.2h.8M247.0 443.4h.8M245.1 446.3h.8M242.0 442.5h.8M246.3 450.5h.8M235.6 449.1h.8M244.7 434.5h.8M243.7 437.9h.8M241.0 444.3h.8M240.7 453.8h.8M237.8 449.2h.8M242.2 450.3h.8M239.5 439.7h.8M245.1 453.9h.8M252.3 443.2h.8M248.4 444.3h.8M251.8 451.5h.8M249.1 442.4h.8M231.1 446.8h.8M231.0 431.9h.8M247.2 444.1h.8M237.2 441.1h.8M241.9 445.0h.8M250.2 444.8h.8M246.8 446.4h.8M235.1 452.4h.8M246.3 441.2h.8M249.4 457.5h.8M246.4 442.9h.8M237.5 457.8h.8M238.0 456.6h.8M243.0 444.1h.8M244.1 444.1h.8M241.2 454.9h.8M243.0 450.2h.8M242.3 442.5h.8M262.1 441.4h.8M246.5 443.7h.8M248.9 427.8h.8M235.6 456.4h.8M237.4 447.0h.8M240.2 453.6h.8M243.9 447.2h.8M249.9 454.8h.8M241.3 440.2h.8M248.3 449.1h.8M242.3 443.1h.8M243.4 447.3h.8M254.7 439.1h.8M250.4 454.8h.8M244.5 452.8h.8M243.3 454.5h.8M252.1 434.1h.8M233.6 441.1h.8M251.6 450.9h.8M249.8 445.6h.8M256.2 437.9h.8M248.9 454.2h.8M249.0 448.0h.8M245.4 447.4h.8M237.3 447.8h.8M247.5 439.4h.8M245.2 455.0h.8M234.3 437.9h.8M245.7 451.2h.8M246.1 453.7h.8M241.0 453.3h.8M249.7 436.1h.8M249.2 453.7h.8M245.0 444.6h.8M244.0 457.3h.8M239.3 443.7h.8M245.6 441.1h.8M241.3 447.4h.8M234.2 440.4h.8M241.1 454.8h.8M250.3 437.9h.8M249.9 436.2h.8M246.3 446.0h.8M242.8 458.1h.8M250.0 429.0h.8M242.1 439.3h.8M241.7 439.4h.8M243.9 448.4h.8M249.5 440.1h.8M239.7 455.8h.8M239.1 448.2h.8M245.9 453.7h.8M235.7 444.3h.8M243.1 445.9h.8M242.7 445.2h.8M241.4 435.9h.8M231.3 453.9h.8M245.4 446.9h.8M254.4 429.8h.8M247.4 430.0h.8M237.7 451.9h.8M247.5 441.2h.8M236.2 463.0h.8M248.2 450.2h.8M252.4 434.0h.8M243.8 449.5h.8M244.4 453.4h.8M243.0 444.5h.8M242.4 449.7h.8M236.1 454.3h.8M240.0 450.6h.8M242.7 453.6h.8M250.3 447.7h.8M254.0 429.0h.8M247.0 448.4h.8M244.1 431.3h.8M251.4 447.5h.8M239.2 447.9h.8M247.3 452.6h.8M242.7 456.2h.8M247.0 447.6h.8M231.5 438.6h.8M255.8 436.4h.8M245.0 443.4h.8M238.7 444.2h.8M244.1 449.1h.8M243.0 448.9h.8M245.6 435.1h.8M240.6 456.4h.8M237.1 449.4h.8M240.9 442.1h.8M252.3 451.4h.8M244.8 442.3h.8M251.9 445.9h.8M247.4 447.2h.8M239.7 449.8h.8M249.4 445.9h.8M248.3 464.3h.8M236.6 447.1h.8M253.9 452.2h.8M238.7 450.9h.8M245.4 431.4h.8M244.6 442.9h.8M241.8 454.5h.8M246.2 450.3h.8M246.0 446.6h.8M238.9 439.9h.8M245.1 439.8h.8M249.9 451.6h.8M241.1 445.4h.8M234.3 449.7h.8M241.0 447.3h.8M248.3 451.5h.8M257.5 434.7h.8M250.2 441.1h.8M248.7 446.2h.8M238.2 446.5h.8M255.6 434.7h.8M239.8 443.5h.8M238.3 448.5h.8M238.1 449.9h.8M240.3 439.8h.8M250.8 446.6h.8M251.6 444.3h.8M240.2 436.9h.8M248.9 443.3h.8M248.0 437.3h.8M240.6 455.5h.8M251.0 437.0h.8M246.0 446.0h.8M239.6 459.0h.8M244.5 443.0h.8M252.9 452.8h.8M245.6 435.7h.8M242.2 435.5h.8M244.9 450.7h.8M237.7 439.5h.8M238.3 458.3h.8M238.6 449.5h.8M251.2 436.6h.8M238.8 454.5h.8M249.8 452.0h.8M249.9 441.2h.8M252.7 444.7h.8M254.9 442.2h.8M256.4 443.4h.8M251.2 437.4h.8M238.8 457.4h.8M249.8 446.2h.8M240.8 448.7h.8M257.1 455.1h.8M240.4 447.9h.8M240.6 441.3h.8M229.7 444.1h.8M245.8 439.6h.8M244.0 436.0h.8M247.2 446.9h.8M246.2 437.8h.8M241.4 462.0h.8M245.4 442.5h.8M242.2 442.4h.8M237.5 440.9h.8M243.4 451.1h.8M241.9 441.8h.8M240.5 436.7h.8M236.8 446.3h.8M250.6 445.5h.8M234.1 441.5h.8M249.3 441.8h.8M237.7 464.5h.8M240.8 450.7h.8M249.9 428.1h.8M249.5 446.3h.8M240.2 454.8h.8M228.6 441.4h.8M245.2 450.4h.8M248.2 438.0h.8M233.3 451.2h.8M248.7 451.6h.8M243.1 442.5h.8M239.5 446.5h.8M251.3 442.6h.8M246.5 466.5h.8M237.9 443.7h.8M241.7 435.4h.8M251.4 433.1h.8M255.1 442.7h.8M245.0 440.2h.8M245.6 447.8h.8M238.9 453.4h.8M250.8 438.1h.8M249.1 444.0h.8M249.6 446.9h.8M246.5 443.9h.8M248.0 445.4h.8M240.8 455.0h.8M241.0 434.7h.8M239.1 446.2h.8M245.3 439.7h.8M236.3 455.9h.8M234.8 449.7h.8M244.4 438.9h.8M231.1 462.0h.8M252.6 444.5h.8M247.5 439.1h.8M246.5 449.1h.8M241.9 454.2h.8M255.4 424.1h.8M247.8 446.2h.8M244.0 451.7h.8M236.5 449.9h.8M239.0 445.6h.8M235.2 451.6h.8M240.9 444.5h.8M247.6 449.0h.8M250.8 438.7h.8M247.4 449.3h.8M246.6 445.6h.8M243.6 443.1h.8M247.6 454.4h.8M241.6 440.6h.8M251.9 444.2h.8M244.7 440.8h.8M243.2 442.9h.8M241.7 447.7h.8M250.0 440.9h.8M238.7 456.2h.8M253.1 449.4h.8M238.6 449.2h.8M243.0 446.8h.8M234.9 452.4h.8M251.9 434.4h.8M246.3 454.1h.8M247.1 439.6h.8M235.4 448.3h.8M244.3 439.1h.8M237.4 458.5h.8M252.0 444.8h.8M241.3 435.8h.8M251.4 440.7h.8M236.9 448.5h.8M242.4 435.9h.8M249.3 437.9h.8M250.7 453.7h.8M236.9 434.6h.8M244.3 450.4h.8M244.9 440.5h.8M241.7 457.4h.8M230.5 448.4h.8M237.3 448.7h.8M243.1 427.8h.8M242.4 431.9h.8M240.6 455.5h.8M242.4 451.8h.8M262.0 432.2h.8M251.8 445.3h.8M243.5 433.3h.8M232.6 444.2h.8M238.4 442.1h.8M247.8 445.3h.8M243.0 448.9h.8M245.9 441.4h.8M254.3 430.1h.8M245.4 451.1h.8M247.4 455.1h.8M236.0 450.5h.8M245.0 446.0h.8M240.6 440.8h.8M243.0 439.7h.8M242.9 450.6h.8M241.3 451.6h.8M242.4 452.6h.8M244.3 447.8h.8M245.1 449.1h.8M250.8 437.8h.8M239.1 452.5h.8M244.5 456.3h.8M251.8 449.8h.8M229.8 467.6h.8M255.7 443.2h.8M237.8 450.7h.8M240.0 462.0h.8M240.1 454.9h.8M232.1 457.3h.8M242.1 446.2h.8M252.2 453.8h.8M249.4 450.5h.8M247.9 448.1h.8M243.7 448.7h.8M243.6 438.7h.8M240.1 453.0h.8M247.6 434.6h.8M241.6 451.4h.8M238.4 446.0h.8M242.4 444.8h.8M259.1 434.3h.8M247.7 457.5h.8M245.1 436.9h.8M252.8 421.4h.8M249.2 444.4h.8M261.4 414.9h.8M258.8 419.3h.8M257.2 427.8h.8M254.2 425.4h.8M255.0 428.3h.8M269.0 420.8h.8M250.8 431.8h.8M256.1 430.3h.8M267.2 412.0h.8M250.8 427.9h.8M274.9 413.2h.8M252.9 432.4h.8M245.8 426.5h.8M261.3 425.4h.8M262.5 426.7h.8M253.3 432.0h.8M278.2 417.3h.8M254.5 421.3h.8M254.3 417.4h.8M259.0 424.4h.8M259.3 431.3h.8M270.3 419.7h.8M258.2 430.3h.8M260.5 439.7h.8M254.4 430.3h.8M254.8 424.6h.8M258.4 430.9h.8M256.3 424.0h.8M257.4 438.6h.8M247.6 432.3h.8M265.7 423.4h.8M254.6 424.9h.8M266.7 420.4h.8M250.7 425.8h.8M264.9 406.7h.8M249.1 434.8h.8M255.6 430.3h.8M255.0 434.0h.8M250.5 423.1h.8M259.4 421.9h.8M259.8 429.9h.8M251.3 426.2h.8M254.6 416.7h.8M258.5 426.2h.8M246.6 438.4h.8M242.0 436.0h.8M253.5 432.5h.8M251.3 439.0h.8M247.8 431.5h.8M262.6 429.5h.8M246.5 441.9h.8M258.2 434.5h.8M260.9 424.3h.8M259.7 428.8h.8M255.5 433.3h.8M245.9 437.6h.8M265.3 429.9h.8M253.5 424.1h.8M253.7 422.7h.8M255.5 429.9h.8M253.0 439.7h.8M250.1 443.4h.8M256.5 424.8h.8M263.0 419.4h.8M250.0 433.8h.8M249.9 424.1h.8M264.4 411.5h.8M252.6 437.5h.8M260.6 428.6h.8M257.5 422.4h.8M260.8 421.4h.8M255.1 436.6h.8M251.6 425.2h.8M262.3 414.1h.8M256.6 423.6h.8M257.0 418.6h.8M267.2 426.2h.8M260.9 420.2h.8M252.6 429.8h.8M258.8 426.1h.8M247.2 439.7h.8M260.3 424.2h.8M246.6 438.0h.8M260.3 422.4h.8M260.6 426.0h.8M251.5 431.2h.8M254.4 430.0h.8M272.5 402.9h.8M263.5 431.5h.8M254.8 425.2h.8M253.9 433.7h.8M242.5 442.4h.8M251.3 430.3h.8M265.1 418.8h.8M261.6 420.3h.8M256.9 430.2h.8M247.7 430.5h.8M265.4 424.5h.8M264.3 424.0h.8M244.4 435.4h.8M245.7 433.8h.8M254.9 424.1h.8M255.7 421.2h.8M256.9 423.9h.8M254.5 423.2h.8M251.2 428.0h.8M265.6 417.5h.8M261.3 426.3h.8M254.5 429.3h.8M258.2 432.9h.8M256.2 427.7h.8M256.3 423.7h.8M242.2 436.7h.8M258.8 431.4h.8M253.4 429.4h.8M263.1 422.8h.8M263.5 431.3h.8M258.3 427.1h.8M251.5 428.6h.8M263.3 412.4h.8M247.3 429.3h.8M255.3 430.5h.8M252.2 430.9h.8M259.6 423.7h.8M256.3 429.9h.8M251.3 428.2h.8M254.6 432.1h.8M258.5 431.6h.8M260.9 433.7h.8M257.3 423.6h.8M249.8 425.8h.8M250.5 432.3h.8M261.5 426.1h.8M252.5 427.2h.8M256.3 426.8h.8M264.0 417.5h.8M250.4 441.8h.8M262.1 422.5h.8M258.0 441.1h.8M253.5 421.6h.8M257.7 442.8h.8M261.7 426.0h.8M256.5 431.0h.8M250.5 433.1h.8M260.8 420.5h.8M250.3 429.1h.8M254.3 427.2h.8M249.5 432.8h.8M256.6 419.2h.8M255.6 426.6h.8M250.7 429.6h.8M257.5 419.6h.8M259.2 434.1h.8M257.4 429.0h.8M250.8 431.6h.8M260.8 420.3h.8M261.7 419.1h.8M253.7 436.4h.8M252.7 428.6h.8M261.6 421.1h.8M265.4 423.1h.8M251.1 424.7h.8M255.8 422.0h.8M252.5 445.8h.8M248.7 431.3h.8M268.1 418.3h.8M255.2 437.6h.8M250.2 432.7h.8M248.7 425.0h.8M263.3 424.8h.8M258.8 426.7h.8M258.2 420.0h.8M252.0 428.0h.8M260.4 424.2h.8M256.0 424.3h.8M257.6 432.0h.8M263.9 419.1h.8M252.2 430.9h.8M248.8 438.1h.8M251.1 438.6h.8M249.8 442.4h.8M262.5 422.2h.8M244.3 431.7h.8M248.4 428.3h.8M259.2 435.6h.8M268.6 416.3h.8M257.0 419.4h.8M249.6 436.9h.8M251.8 430.3h.8M261.3 431.5h.8M254.7 425.5h.8M253.4 428.5h.8M254.3 431.8h.8M258.4 425.1h.8M260.6 416.5h.8M259.1 420.1h.8M261.9 430.0h.8M256.7 415.8h.8M259.1 427.1h.8M252.6 424.9h.8M262.0 428.6h.8M258.7 431.2h.8M259.0 431.8h.8M247.1 430.0h.8M268.3 425.0h.8M253.2 435.9h.8M259.7 434.4h.8M267.4 426.1h.8M258.4 421.2h.8M257.3 432.3h.8M256.8 427.1h.8M250.0 445.9h.8M260.3 424.5h.8M258.2 433.5h.8M255.8 434.9h.8M276.5 412.0h.8M263.7 416.0h.8M257.5 425.9h.8M249.4 426.2h.8M259.9 424.5h.8M255.7 428.2h.8M251.9 436.7h.8M251.5 430.6h.8M266.7 428.8h.8M252.4 426.8h.8M254.1 440.1h.8M262.9 421.3h.8M258.8 434.3h.8M259.9 428.2h.8M256.7 425.3h.8M261.9 423.9h.8M254.1 431.5h.8M255.9 428.1h.8M255.0 432.2h.8M255.9 433.6h.8M253.9 423.7h.8M252.1 430.1h.8M258.5 425.2h.8M262.6 424.7h.8M259.0 423.2h.8M236.9 451.2h.8M253.5 418.5h.8M250.9 435.0h.8M262.3 428.1h.8M262.0 418.4h.8M256.9 436.7h.8M246.5 424.4h.8M277.3 419.7h.8M244.8 438.8h.8M258.6 430.4h.8M260.0 423.5h.8M257.7 425.2h.8M246.5 431.9h.8M250.6 428.0h.8M260.6 423.0h.8M257.9 427.1h.8M248.1 441.6h.8M265.0 429.3h.8M245.2 435.4h.8M266.8 426.5h.8M259.7 424.9h.8M263.5 422.0h.8M258.4 431.5h.8M258.4 427.0h.8M254.7 433.4h.8M250.7 431.5h.8M256.8 439.4h.8M248.0 431.7h.8M252.0 429.7h.8M262.8 424.2h.8M259.4 421.3h.8M259.2 430.2h.8M261.2 431.9h.8M257.5 431.4h.8M258.2 424.0h.8M250.5 430.1h.8M263.3 419.4h.8M251.2 431.7h.8M245.7 446.6h.8M253.2 418.4h.8M247.6 428.9h.8M263.1 406.5h.8M240.3 441.4h.8M254.5 423.8h.8M258.2 430.9h.8M250.5 425.4h.8M262.6 422.9h.8M256.1 422.9h.8M260.3 424.1h.8M256.0 434.6h.8M256.6 432.5h.8M253.3 442.9h.8M265.7 424.9h.8M250.0 437.3h.8M260.5 414.3h.8M258.4 433.7h.8M257.3 434.2h.8M252.3 430.5h.8M253.9 437.6h.8M255.7 429.9h.8M255.6 435.5h.8M253.4 438.0h.8M260.7 425.0h.8M237.7 448.2h.8M259.7 430.9h.8M266.3 438.1h.8M243.8 436.4h.8M261.1 406.9h.8M252.8 433.1h.8M265.6 425.9h.8M269.2 417.7h.8M263.0 428.7h.8M259.1 425.4h.8M267.1 423.5h.8M250.5 423.0h.8M249.2 435.5h.8M261.2 426.3h.8M250.5 426.0h.8M261.3 418.3h.8M262.5 429.2h.8M251.2 422.4h.8M267.6 424.3h.8M247.9 444.5h.8M259.9 428.3h.8M254.1 429.2h.8M261.2 421.1h.8M269.0 423.1h.8M258.1 423.5h.8M244.3 435.1h.8M253.3 443.3h.8M267.2 405.5h.8M254.3 421.6h.8M267.4 423.0h.8M254.7 420.7h.8M255.9 428.9h.8M251.8 429.3h.8M256.0 433.6h.8M253.5 439.3h.8M256.5 425.1h.8M258.6 433.7h.8M257.6 424.6h.8M265.9 420.3h.8M252.9 429.5h.8M265.7 417.3h.8M259.9 431.2h.8M251.5 428.0h.8M257.8 418.8h.8M244.9 437.4h.8M249.7 432.9h.8M244.1 445.2h.8M247.5 430.7h.8M253.0 423.5h.8M247.5 425.6h.8M247.7 425.9h.8M257.8 434.2h.8M263.4 422.7h.8M261.5 432.2h.8M254.7 430.1h.8M251.7 431.9h.8M241.0 441.9h.8M249.5 426.8h.8M257.4 432.3h.8M253.5 430.4h.8M262.0 425.0h.8M251.0 432.5h.8M267.9 427.0h.8M253.5 437.4h.8M262.2 412.3h.8M259.7 420.9h.8M246.7 432.9h.8M257.4 433.4h.8M273.0 418.2h.8M264.0 417.5h.8M251.2 434.1h.8M251.6 433.5h.8M257.6 435.9h.8M273.7 410.3h.8M262.7 421.0h.8M265.3 426.7h.8M262.9 444.6h.8M261.0 419.5h.8M247.4 434.1h.8M249.8 415.5h.8M255.0 423.7h.8M257.7 421.4h.8M258.4 429.3h.8M256.6 419.4h.8M254.5 439.5h.8M250.3 423.2h.8M261.9 434.2h.8M258.8 420.0h.8M267.2 413.5h.8M270.7 415.8h.8M261.6 421.1h.8M251.3 437.3h.8M260.5 415.3h.8M250.9 427.6h.8M258.8 419.0h.8M257.5 425.0h.8M252.6 434.1h.8M260.3 429.1h.8M254.8 429.6h.8M254.4 423.5h.8M252.7 436.4h.8M259.9 427.1h.8M260.6 426.9h.8M264.4 420.1h.8M247.9 434.0h.8M273.3 421.4h.8M256.0 428.7h.8M257.4 416.3h.8M261.7 433.4h.8M257.1 420.3h.8M259.3 424.4h.8M243.7 426.9h.8M255.7 440.8h.8M261.5 420.1h.8M259.5 422.1h.8M261.3 411.9h.8M250.3 429.1h.8M256.5 441.2h.8M265.3 420.5h.8M245.1 443.4h.8M251.5 431.3h.8M259.4 430.5h.8M250.3 430.9h.8M251.4 434.2h.8M249.9 433.8h.8M265.0 413.6h.8M261.6 418.7h.8M252.7 435.7h.8M255.8 426.2h.8M251.4 430.5h.8M252.8 432.9h.8M261.1 431.2h.8M262.4 420.6h.8M257.7 427.2h.8M250.3 446.9h.8M248.5 431.6h.8M251.6 430.4h.8M254.3 437.7h.8M250.6 428.3h.8M248.4 440.3h.8M258.8 424.6h.8M254.1 425.9h.8M262.2 428.7h.8M263.4 425.6h.8M249.9 426.3h.8M265.5 406.4h.8M262.2 427.1h.8M246.8 428.7h.8M263.8 429.4h.8M263.7 415.1h.8M262.9 417.4h.8M247.6 445.4h.8M256.8 429.4h.8M267.9 419.0h.8M256.7 428.8h.8M260.2 431.5h.8M259.4 443.9h.8M259.6 426.1h.8M261.9 429.4h.8M260.5 430.6h.8M250.2 434.2h.8M258.5 421.8h.8M258.2 429.3h.8M260.4 414.5h.8M257.4 435.5h.8M257.9 424.4h.8M243.8 428.1h.8M248.3 445.2h.8M254.8 423.4h.8M248.2 442.4h.8M260.0 413.7h.8M255.5 429.6h.8M250.7 433.2h.8M258.4 441.1h.8M248.3 438.7h.8M245.7 434.3h.8M260.6 416.0h.8M256.6 420.1h.8M255.4 423.6h.8M256.8 422.4h.8M253.7 437.0h.8M248.5 432.8h.8M262.7 426.5h.8M253.6 436.6h.8M262.3 422.0h.8M258.1 431.6h.8M250.6 424.3h.8M254.4 433.8h.8M263.9 413.8h.8M246.8 433.0h.8M248.0 435.4h.8M246.5 448.8h.8M264.3 423.0h.8M252.8 433.0h.8M258.7 429.2h.8M246.8 427.7h.8M264.2 416.3h.8M252.5 437.6h.8M253.7 428.6h.8M267.8 417.9h.8M259.4 428.1h.8M260.3 428.8h.8M255.0 422.0h.8M256.0 431.7h.8M262.3 430.8h.8M271.9 418.7h.8M258.2 433.0h.8M267.1 418.6h.8M247.4 426.3h.8M259.1 431.0h.8M256.3 427.4h.8M253.5 433.8h.8M253.3 427.4h.8M258.3 420.1h.8M253.5 426.6h.8M251.7 426.2h.8M260.8 426.2h.8M269.3 423.3h.8M254.5 437.1h.8M260.7 432.3h.8M257.1 441.8h.8M260.4 429.3h.8M266.5 410.1h.8M245.9 432.4h.8M253.8 424.2h.8M246.7 432.6h.8M264.6 421.2h.8M253.6 435.0h.8M249.9 419.3h.8M261.7 410.8h.8M257.0 430.4h.8M260.0 426.1h.8M255.2 431.8h.8M262.0 422.1h.8M259.3 427.0h.8M257.1 430.2h.8M263.2 418.3h.8M266.0 417.7h.8M267.9 424.2h.8M255.0 431.0h.8M253.9 432.8h.8M252.4 435.0h.8M253.3 432.7h.8M258.9 432.8h.8M254.6 430.8h.8M249.6 436.7h.8M264.8 419.6h.8M257.9 422.3h.8M247.8 430.0h.8M274.7 412.9h.8M271.5 414.6h.8M271.6 422.6h.8M262.9 419.4h.8M252.8 439.4h.8M254.4 437.9h.8M259.8 425.7h.8M244.2 446.7h.8M259.3 424.3h.8M273.0 421.0h.8M258.3 426.1h.8M265.8 426.5h.8M250.3 437.7h.8M263.9 432.4h.8M259.1 425.3h.8M270.4 430.0h.8M263.0 426.8h.8M251.6 429.2h.8M265.9 415.4h.8M251.7 425.1h.8M252.6 434.7h.8M257.7 434.3h.8M250.8 420.9h.8M256.6 424.8h.8M252.8 425.0h.8M261.2 429.1h.8M252.4 423.2h.8M252.3 425.2h.8M249.4 422.8h.8M256.2 424.1h.8M252.4 427.7h.8M261.0 433.7h.8M263.0 429.1h.8M262.4 415.2h.8M254.7 425.9h.8M237.1 442.1h.8M251.0 430.7h.8M277.1 414.1h.8M253.5 429.9h.8M265.4 429.6h.8M246.5 430.4h.8M251.7 430.7h.8M252.6 440.2h.8M245.9 440.2h.8M263.1 419.4h.8M267.7 412.2h.8M273.6 408.4h.8M267.4 402.2h.8M284.7 397.0h.8M256.9 414.8h.8M272.1 401.0h.8M274.2 407.3h.8M272.3 401.3h.8M280.1 405.5h.8M277.1 404.7h.8M266.9 412.5h.8M261.0 407.5h.8M272.5 406.3h.8M268.2 411.6h.8M266.9 411.0h.8M272.5 402.8h.8M263.7 420.5h.8M274.2 413.4h.8M272.7 408.6h.8M269.2 409.5h.8M261.7 411.3h.8M277.7 405.1h.8M270.5 405.8h.8M266.6 417.1h.8M281.8 412.6h.8M261.4 419.2h.8M276.4 408.9h.8M268.4 399.4h.8M271.4 409.6h.8M273.5 413.0h.8M272.7 406.6h.8M270.1 402.1h.8M269.7 410.2h.8M266.7 404.3h.8M261.6 421.0h.8M266.0 414.9h.8M274.7 405.0h.8M273.7 405.3h.8M267.9 417.5h.8M261.3 419.9h.8M265.2 411.5h.8M278.3 406.4h.8M261.9 416.9h.8M264.3 416.5h.8M274.7 407.6h.8M282.7 400.5h.8M273.7 409.0h.8M253.8 431.3h.8M267.4 410.5h.8M271.5 413.6h.8M267.9 415.2h.8M275.3 406.3h.8M274.6 400.2h.8M262.6 413.4h.8M256.8 426.5h.8M264.6 417.9h.8M276.7 402.9h.8M265.2 408.8h.8M268.1 418.2h.8M273.9 402.6h.8M261.3 420.4h.8M275.1 405.9h.8M267.3 413.3h.8M273.4 411.2h.8M279.6 409.1h.8M263.2 406.0h.8M264.0 418.3h.8M259.3 428.7h.8M263.2 418.7h.8M261.7 409.7h.8M264.8 417.4h.8M269.4 407.8h.8M279.9 408.6h.8M283.7 396.5h.8M270.8 420.0h.8M272.8 418.4h.8M272.9 411.1h.8M274.3 410.6h.8M263.8 404.8h.8M276.3 402.4h.8M259.9 414.0h.8M264.4 426.2h.8M279.3 403.4h.8M276.1 400.1h.8M277.3 391.4h.8M275.3 408.5h.8M269.3 403.3h.8M279.5 417.2h.8M268.9 414.5h.8M270.7 412.2h.8M280.4 406.2h.8M278.5 412.9h.8M260.4 428.5h.8M268.3 418.4h.8M264.1 414.3h.8M273.1 406.7h.8M273.2 411.3h.8M268.6 421.3h.8M271.0 416.7h.8M266.0 411.4h.8M269.2 403.8h.8M271.2 422.9h.8M257.6 413.6h.8M275.4 407.2h.8M278.9 402.9h.8M280.9 400.4h.8M265.6 412.0h.8M263.9 419.3h.8M279.9 396.5h.8M264.4 419.2h.8M272.1 413.1h.8M268.7 405.0h.8M267.6 408.4h.8M271.3 408.6h.8M262.8 413.8h.8M279.2 402.8h.8M263.4 415.7h.8M267.2 407.5h.8M273.2 407.9h.8M260.1 419.0h.8M274.4 413.5h.8M266.8 425.9h.8M274.9 407.8h.8M253.4 436.2h.8M266.6 415.7h.8M271.2 411.6h.8M271.2 403.3h.8M264.0 408.6h.8M271.9 414.1h.8M275.2 413.5h.8M271.4 415.7h.8M266.9 413.5h.8M254.6 427.0h.8M272.2 409.8h.8M273.1 405.2h.8M270.9 416.1h.8M272.0 404.1h.8M263.6 423.0h.8M260.7 417.1h.8M270.4 418.1h.8M277.4 399.5h.8M270.6 408.8h.8M268.9 412.2h.8M273.9 403.7h.8M267.0 414.0h.8M282.5 399.5h.8M262.0 419.9h.8M255.5 412.3h.8M271.9 405.3h.8M266.2 403.6h.8M264.2 418.2h.8M256.6 419.5h.8M264.2 407.1h.8M271.5 415.6h.8M263.5 413.9h.8M264.4 416.1h.8M267.9 417.9h.8M261.8 410.9h.8M262.8 417.7h.8M276.9 407.4h.8M256.7 417.7h.8M280.8 399.7h.8M260.4 417.2h.8M272.2 413.4h.8M274.9 419.8h.8M268.9 419.8h.8M260.5 418.8h.8M266.4 405.0h.8M256.3 431.4h.8M261.1 413.6h.8M275.6 403.6h.8M272.8 412.4h.8M268.3 415.8h.8M249.6 423.9h.8M268.0 400.8h.8M275.7 401.3h.8M279.9 409.6h.8M261.5 416.0h.8M272.6 417.9h.8M273.8 414.5h.8M265.2 407.2h.8M264.7 420.2h.8M273.3 407.4h.8M273.6 412.0h.8M275.2 419.6h.8M265.0 409.2h.8M264.0 419.5h.8M270.4 403.1h.8M279.4 405.3h.8M262.2 409.6h.8M266.4 413.7h.8M267.0 418.7h.8M254.2 433.3h.8M260.1 429.1h.8M260.1 414.6h.8M273.2 404.8h.8M271.1 418.4h.8M275.3 410.0h.8M266.4 409.6h.8M268.9 412.6h.8M260.9 415.5h.8M270.9 405.7h.8M284.4 404.0h.8M268.1 409.4h.8M271.0 408.1h.8M277.3 411.9h.8M265.9 408.8h.8M270.2 412.1h.8M280.2 409.8h.8M267.7 404.6h.8M270.9 415.1h.8M274.4 408.7h.8M264.6 416.5h.8M258.2 421.1h.8M264.6 421.0h.8M274.3 406.3h.8M267.3 405.9h.8M272.5 395.3h.8M263.9 412.8h.8M257.8 420.8h.8M279.8 404.0h.8M270.1 405.9h.8M270.9 414.0h.8M282.8 404.1h.8M268.0 407.7h.8M266.5 405.6h.8M277.2 399.7h.8M278.1 396.9h.8M263.7 420.7h.8M270.9 408.9h.8M253.0 417.2h.8M264.2 425.0h.8M271.9 407.6h.8M278.3 399.9h.8M269.9 406.8h.8M269.6 419.6h.8M264.1 411.9h.8M264.5 410.0h.8M264.4 413.2h.8M267.6 408.9h.8M269.4 410.6h.8M263.4 411.3h.8M268.2 410.2h.8M276.5 408.9h.8M265.2 417.1h.8M280.6 405.0h.8M267.0 420.8h.8M270.9 416.6h.8M263.5 415.6h.8M263.6 418.8h.8M263.6 419.9h.8M279.1 412.6h.8M269.6 410.2h.8M268.8 410.9h.8M276.3 411.6h.8M267.3 410.4h.8M281.6 405.6h.8M270.6 418.8h.8M273.1 414.0h.8M261.9 416.1h.8M289.3 400.7h.8M282.4 402.0h.8M272.9 405.5h.8M277.8 403.1h.8M265.3 417.1h.8M277.3 407.9h.8M272.4 408.3h.8M271.0 409.9h.8M271.0 404.9h.8M269.3 414.1h.8M260.0 428.4h.8M259.0 420.1h.8M265.7 420.4h.8M270.0 404.9h.8M279.6 404.8h.8M268.1 406.8h.8M265.7 417.6h.8M264.8 421.3h.8M273.8 406.0h.8M269.5 415.1h.8M276.6 398.6h.8M256.2 414.3h.8M268.0 414.4h.8M268.8 416.0h.8M278.1 410.3h.8M271.1 411.7h.8M279.0 398.0h.8M270.9 406.8h.8M273.1 406.7h.8M254.4 427.1h.8M266.0 411.6h.8M273.4 410.3h.8M267.8 419.9h.8M271.9 409.4h.8M265.9 418.2h.8M274.0 410.4h.8M271.1 413.5h.8M254.6 428.9h.8M267.9 408.6h.8M279.7 403.9h.8M272.6 406.3h.8M267.9 408.5h.8M278.9 408.2h.8M279.1 401.3h.8M268.2 417.5h.8M272.0 415.5h.8M275.0 402.5h.8M262.2 415.3h.8M271.1 409.3h.8M275.8 404.7h.8M266.9 411.6h.8M262.9 426.8h.8M269.7 404.9h.8M260.1 422.7h.8M267.0 416.4h.8M269.0 403.2h.8M277.4 396.5h.8M273.3 406.3h.8M257.9 423.0h.8M266.4 422.2h.8M275.4 414.2h.8M278.5 397.3h.8M270.6 407.3h.8M271.2 409.3h.8M276.1 407.9h.8M271.1 408.8h.8M277.8 408.5h.8M271.8 409.7h.8M272.0 405.4h.8M269.7 408.6h.8M268.5 404.6h.8M270.1 407.6h.8M265.2 418.1h.8M271.3 403.1h.8M264.4 417.9h.8M268.2 412.8h.8M268.5 415.5h.8M269.2 411.2h.8M278.4 406.2h.8M262.0 415.7h.8M273.4 408.1h.8M260.1 416.4h.8M260.3 415.7h.8M271.9 409.7h.8M266.5 410.2h.8M275.2 415.4h.8M272.3 421.3h.8M269.5 406.0h.8M280.0 407.3h.8M276.8 391.8h.8M275.3 416.8h.8M261.8 414.5h.8M283.6 398.1h.8M262.2 426.3h.8M281.1 397.8h.8M268.1 426.1h.8M271.3 404.7h.8M267.8 414.9h.8M271.4 411.4h.8M268.5 416.3h.8M262.8 412.1h.8M269.2 405.8h.8M287.5 404.1h.8M266.7 409.1h.8M270.5 414.1h.8M273.9 409.7h.8M266.0 417.7h.8M270.3 410.7h.8M275.1 404.8h.8M258.1 406.7h.8M269.5 413.3h.8M271.2 413.8h.8M260.2 421.5h.8M283.9 405.6h.8M264.3 415.3h.8M264.4 414.5h.8M273.0 414.2h.8M270.3 413.9h.8M280.7 413.7h.8M268.4 404.9h.8M270.1 409.5h.8M265.9 413.9h.8M273.0 415.3h.8M270.0 425.1h.8M272.0 407.7h.8M275.5 402.9h.8M278.0 409.7h.8M260.9 425.4h.8M267.0 412.5h.8M269.7 412.4h.8M269.5 410.2h.8M270.2 408.9h.8M267.3 414.8h.8M264.8 424.1h.8M267.1 411.9h.8M269.8 419.9h.8M278.0 406.6h.8M262.9 425.4h.8M270.3 425.4h.8M262.7 409.5h.8M268.1 418.3h.8M276.3 403.0h.8M265.3 408.4h.8M263.3 419.4h.8M272.3 407.1h.8M266.0 421.5h.8M280.6 399.1h.8M265.2 410.2h.8M259.8 423.6h.8M255.6 419.8h.8M263.9 417.7h.8M264.2 417.1h.8M271.8 408.9h.8M267.4 412.7h.8M270.1 414.0h.8M271.1 404.6h.8M265.2 422.9h.8M264.6 415.7h.8M257.2 416.9h.8M269.8 410.4h.8M277.3 406.9h.8M270.9 407.5h.8M280.6 404.8h.8M276.2 400.0h.8M268.3 406.7h.8M269.1 413.3h.8M275.9 406.2h.8M272.1 400.1h.8M270.7 409.1h.8M269.0 417.8h.8M281.4 403.7h.8M269.6 409.7h.8M266.8 418.9h.8M259.6 410.6h.8M268.0 405.0h.8M278.7 394.5h.8M278.9 403.0h.8M261.7 412.1h.8M281.5 403.5h.8M275.7 402.3h.8M271.7 403.0h.8M282.9 399.4h.8M266.3 407.8h.8M266.9 411.3h.8M274.7 415.7h.8M264.2 412.5h.8M271.5 418.5h.8M266.8 414.1h.8M271.9 406.7h.8M276.2 409.9h.8M268.9 416.9h.8M266.2 412.8h.8M278.4 402.3h.8M272.9 400.8h.8M265.9 420.8h.8M275.0 413.2h.8M286.5 402.6h.8M260.6 417.3h.8M263.6 414.2h.8M261.2 414.9h.8M264.5 413.0h.8M280.3 407.6h.8M270.2 421.3h.8M260.9 416.1h.8M267.4 408.9h.8M275.2 398.4h.8M275.5 406.9h.8M266.9 412.6h.8M271.9 402.1h.8M272.7 409.4h.8M264.7 407.1h.8M265.7 403.8h.8M263.4 413.4h.8M269.1 407.3h.8M264.7 415.0h.8M270.5 411.8h.8M267.4 422.4h.8M266.5 411.6h.8M270.9 408.3h.8M276.0 411.8h.8M276.0 403.2h.8M267.4 417.2h.8M275.2 403.4h.8M254.2 416.8h.8M256.5 416.5h.8M278.0 407.3h.8M273.5 399.0h.8M274.2 401.9h.8M271.3 407.9h.8M266.2 413.6h.8M277.8 402.1h.8M286.1 401.0h.8M274.7 414.1h.8M259.2 422.1h.8M269.9 414.2h.8M264.7 418.5h.8M261.4 422.2h.8M270.8 417.4h.8M278.0 412.4h.8M271.8 407.0h.8M272.8 406.7h.8M275.5 405.8h.8M262.7 417.1h.8M266.6 416.9h.8M273.6 412.1h.8M280.3 407.7h.8M277.3 402.3h.8M276.6 396.2h.8M273.1 405.2h.8M274.9 413.2h.8M269.7 416.8h.8M266.4 415.8h.8M265.1 415.7h.8M270.0 413.5h.8M271.0 406.8h.8M263.3 420.6h.8M286.9 390.5h.8M275.4 409.7h.8M271.2 400.1h.8M273.9 407.0h.8M275.9 415.1h.8M274.4 407.3h.8M271.3 407.0h.8M265.1 403.9h.8M277.3 405.9h.8M271.8 404.8h.8M266.2 406.8h.8M273.2 417.5h.8M262.8 417.0h.8M264.0 417.0h.8M260.3 420.0h.8M271.3 414.6h.8M267.7 415.1h.8M274.7 403.8h.8M268.5 411.6h.8M273.8 403.4h.8M282.3 400.4h.8M274.5 404.7h.8M264.7 413.4h.8M272.0 402.5h.8M275.5 409.5h.8M270.0 408.5h.8M279.3 398.9h.8M266.4 405.7h.8M271.8 411.3h.8M269.5 406.7h.8M276.0 413.7h.8M264.8 410.9h.8M263.3 413.5h.8M273.5 411.4h.8M281.1 410.5h.8M262.7 428.8h.8M274.0 407.7h.8M274.0 406.5h.8M272.4 411.0h.8M264.9 410.9h.8M278.5 408.7h.8M267.4 401.7h.8M277.3 407.8h.8M273.7 405.0h.8M265.4 410.4h.8M278.7 403.5h.8M272.0 410.8h.8M265.4 406.6h.8M266.0 412.1h.8M271.4 408.6h.8M261.8 416.7h.8M261.7 416.3h.8M269.2 410.9h.8M270.0 415.9h.8M264.2 417.6h.8M268.8 410.5h.8M266.2 410.7h.8M270.6 409.3h.8M268.8 412.3h.8M275.9 407.9h.8M262.1 417.8h.8M272.4 407.7h.8M275.3 412.2h.8M264.6 417.2h.8M273.6 413.9h.8M278.4 412.2h.8M280.3 404.8h.8M270.0 417.0h.8M263.4 420.6h.8M260.3 424.3h.8M271.9 410.2h.8M274.2 414.3h.8M263.5 426.5h.8M275.2 402.7h.8M254.9 418.6h.8M270.5 403.7h.8M272.0 400.6h.8M260.3 421.9h.8M260.0 411.1h.8M274.0 406.0h.8M274.9 417.6h.8M273.2 412.0h.8M275.7 399.6h.8M270.8 412.2h.8M278.0 404.5h.8M275.8 402.7h.8M267.4 411.7h.8M284.8 402.8h.8M272.2 403.8h.8M264.3 408.8h.8M272.3 404.8h.8M262.7 416.1h.8M261.3 418.2h.8M285.0 398.3h.8M282.2 402.8h.8M268.4 408.4h.8M260.9 419.7h.8M267.5 417.5h.8M275.1 405.2h.8M272.3 407.9h.8M267.7 404.3h.8M271.6 410.5h.8M268.1 408.7h.8M279.0 412.9h.8M268.4 410.1h.8M286.7 394.4h.8M271.9 415.4h.8M274.9 415.5h.8M265.5 416.6h.8M262.3 421.6h.8M262.5 412.2h.8M273.0 394.6h.8M268.9 408.1h.8M285.5 396.2h.8M282.5 401.4h.8M280.7 407.4h.8M268.4 413.9h.8M274.4 417.2h.8M271.7 410.6h.8M276.9 399.1h.8M257.3 425.2h.8M276.5 403.7h.8M270.1 418.9h.8M270.8 415.5h.8M269.5 413.4h.8M280.3 404.4h.8M275.2 411.1h.8M268.6 406.3h.8M270.3 417.5h.8M270.2 410.4h.8M265.2 414.0h.8M268.5 408.5h.8M260.0 418.2h.8M279.8 404.1h.8M280.8 396.6h.8M265.8 422.2h.8M267.7 417.4h.8M267.8 411.6h.8M269.9 412.9h.8M270.6 422.4h.8M269.7 418.6h.8M282.3 410.7h.8M285.1 410.0h.8M268.9 412.0h.8M266.6 420.8h.8M278.3 407.4h.8M269.4 411.3h.8M277.6 409.4h.8M278.1 402.1h.8M280.1 407.3h.8M276.6 403.5h.8M276.5 407.0h.8M274.9 404.7h.8M251.8 417.5h.8M264.9 414.1h.8M270.3 413.2h.8M265.2 411.0h.8M272.7 402.0h.8M258.3 419.9h.8M254.6 415.3h.8M268.9 405.3h.8M269.6 410.4h.8M260.1 410.6h.8M264.9 410.3h.8M265.9 416.7h.8M268.2 413.7h.8M265.2 412.6h.8M278.7 410.2h.8M271.5 417.0h.8M280.0 406.5h.8M272.3 407.1h.8M275.6 416.0h.8M280.3 399.4h.8M270.9 403.4h.8M267.3 420.1h.8M274.2 394.0h.8M265.6 416.6h.8M276.0 404.5h.8M275.9 400.1h.8M267.7 409.5h.8M263.6 410.8h.8M262.4 412.0h.8M289.8 397.8h.8M284.3 402.7h.8M264.2 406.6h.8M274.3 401.5h.8M271.7 407.7h.8M273.4 408.0h.8M272.1 415.7h.8M280.2 398.7h.8M278.9 395.7h.8M276.0 410.3h.8M268.5 412.3h.8M270.3 412.3h.8M258.1 427.4h.8M270.1 413.6h.8M272.9 416.8h.8M260.7 412.9h.8M266.2 418.5h.8M265.8 416.8h.8M261.1 409.2h.8M260.0 414.4h.8M266.0 412.8h.8M284.8 393.2h.8M278.6 417.9h.8M268.8 413.6h.8M270.1 409.2h.8M266.6 420.6h.8M275.3 406.0h.8M268.3 408.7h.8M270.3 409.5h.8M263.8 418.1h.8M255.0 417.9h.8M260.6 411.7h.8M267.6 414.4h.8M277.0 401.1h.8M272.0 410.0h.8M270.8 414.2h.8M271.0 420.4h.8M271.6 413.6h.8M271.9 395.5h.8M284.7 400.4h.8M268.4 413.4h.8M256.6 417.2h.8M273.4 404.9h.8M279.9 395.9h.8M267.6 411.9h.8M266.0 412.5h.8M261.0 418.3h.8M269.7 413.6h.8M268.3 413.5h.8M258.2 421.1h.8M263.6 407.4h.8M267.2 408.2h.8M270.4 411.1h.8M264.5 420.1h.8M274.0 420.6h.8M270.6 414.4h.8M268.8 405.8h.8M264.8 409.6h.8M275.1 400.0h.8M267.9 412.5h.8M275.0 395.3h.8M282.0 406.9h.8M251.7 421.7h.8M270.3 402.1h.8M274.4 407.2h.8M273.0 407.4h.8M276.3 398.0h.8M266.9 418.9h.8M273.4 401.2h.8M270.8 407.6h.8M265.5 421.2h.8M278.7 411.4h.8M271.3 405.6h.8M271.4 403.8h.8M280.4 396.5h.8M270.6 420.4h.8M256.8 425.8h.8M280.4 408.5h.8M273.3 411.0h.8M268.0 411.6h.8M274.0 413.1h.8M275.0 405.5h.8M256.9 421.4h.8M280.5 400.4h.8M284.3 403.3h.8M264.8 408.9h.8M276.3 400.0h.8M277.6 404.1h.8M271.5 403.0h.8M274.6 402.9h.8M273.8 403.5h.8M278.4 410.1h.8M276.5 408.6h.8M267.8 412.9h.8M275.6 412.0h.8M266.4 413.5h.8M267.7 413.2h.8M270.9 408.3h.8M266.5 413.7h.8M277.3 409.6h.8M277.7 407.5h.8M270.5 406.3h.8M277.4 408.9h.8M268.4 419.7h.8M273.1 406.1h.8M257.5 421.1h.8M278.6 403.5h.8M269.0 410.4h.8M265.6 418.5h.8M274.4 407.5h.8M269.8 410.2h.8M279.4 397.9h.8M273.6 409.3h.8M277.2 401.7h.8M266.1 407.3h.8M280.8 403.5h.8M264.5 409.4h.8M262.7 409.8h.8M263.4 406.7h.8M270.4 422.1h.8M255.8 415.6h.8M267.3 416.6h.8M269.0 416.3h.8M270.7 409.0h.8M268.1 416.1h.8M275.1 398.8h.8M272.2 400.5h.8M266.4 409.6h.8M282.2 401.1h.8M285.4 407.3h.8M263.5 427.4h.8M267.3 419.8h.8M264.9 411.8h.8M267.0 416.5h.8M267.4 423.5h.8M271.3 413.7h.8M275.0 404.1h.8M257.4 421.3h.8M264.4 419.8h.8M266.6 419.8h.8M270.2 417.7h.8M266.7 416.4h.8M272.2 403.8h.8M285.3 402.3h.8M264.2 410.3h.8M264.1 418.9h.8M269.7 401.7h.8M272.5 405.8h.8M267.3 410.2h.8M269.7 409.1h.8M266.8 415.4h.8M268.3 419.5h.8M267.7 418.6h.8M267.9 416.8h.8M260.4 420.4h.8M267.3 404.6h.8M260.7 430.5h.8M267.1 419.6h.8M273.0 412.4h.8M263.4 414.2h.8M273.8 416.0h.8M268.9 398.5h.8M277.1 403.3h.8M278.2 401.5h.8M267.3 412.5h.8M277.3 401.5h.8M272.5 416.3h.8M274.4 412.1h.8M273.7 414.9h.8M268.0 419.1h.8M269.6 418.2h.8M274.9 400.3h.8M271.3 415.6h.8M277.2 403.8h.8M270.4 404.3h.8M266.4 412.4h.8M274.0 408.7h.8M270.9 413.5h.8M251.6 435.1h.8M276.6 396.8h.8M285.6 391.8h.8M277.1 406.2h.8M268.4 418.1h.8M270.4 405.7h.8M256.9 422.1h.8M273.0 402.5h.8M262.1 419.0h.8M276.0 411.8h.8M256.9 413.0h.8M267.6 416.6h.8M260.6 425.7h.8M276.8 400.4h.8M265.1 416.5h.8M270.4 406.8h.8M263.2 416.7h.8M267.7 416.6h.8M267.5 418.6h.8M278.1 411.8h.8M263.1 402.6h.8M265.8 417.6h.8M265.0 407.4h.8M260.2 419.2h.8M263.6 406.5h.8M262.9 407.2h.8M263.4 416.5h.8M265.5 419.8h.8M264.1 420.4h.8M280.6 401.5h.8M279.5 389.8h.8M271.8 408.7h.8M274.1 410.5h.8M273.2 406.5h.8M258.7 424.1h.8M273.2 406.7h.8M271.8 408.7h.8M264.1 411.5h.8M279.0 401.9h.8M277.9 408.0h.8M279.7 404.3h.8M267.5 408.2h.8M267.0 414.1h.8M277.5 405.3h.8M268.8 405.8h.8M273.8 411.0h.8M268.5 414.1h.8M268.3 409.1h.8M261.3 421.6h.8M266.7 405.7h.8M264.3 423.0h.8M275.3 404.9h.8M276.4 403.5h.8M266.5 415.4h.8M275.0 400.6h.8M270.7 409.1h.8M274.4 402.0h.8M269.3 407.4h.8M273.9 412.9h.8M271.7 401.7h.8M278.2 401.5h.8M262.0 418.0h.8M272.2 419.4h.8M273.2 411.7h.8M271.9 411.5h.8M272.2 403.2h.8M269.5 404.5h.8M260.1 408.6h.8M258.0 420.7h.8M277.1 404.8h.8M274.2 413.0h.8M266.7 413.1h.8M268.6 424.2h.8M270.5 415.3h.8M265.1 417.8h.8M259.0 417.5h.8M276.5 403.0h.8M266.9 415.0h.8M271.8 413.5h.8M265.1 414.2h.8M266.8 418.5h.8M270.4 416.3h.8M275.2 412.3h.8M273.2 402.9h.8M267.4 409.0h.8M277.4 404.5h.8M271.5 412.7h.8M269.1 414.3h.8M269.0 409.1h.8M281.5 395.3h.8M276.0 405.1h.8M279.0 399.5h.8M269.9 412.7h.8M271.3 411.7h.8M265.9 405.4h.8M272.6 412.3h.8M259.9 423.6h.8M266.6 419.5h.8M269.8 409.1h.8M269.3 405.0h.8M266.6 418.9h.8M268.0 419.3h.8M268.8 417.4h.8M277.0 408.9h.8M288.3 401.3h.8M279.2 409.2h.8M270.8 417.2h.8M268.7 409.8h.8M269.6 415.4h.8M266.9 419.7h.8M267.2 418.4h.8M267.8 408.5h.8M271.9 420.6h.8M265.5 411.5h.8M263.2 417.1h.8M267.2 421.9h.8M276.6 414.1h.8M275.5 420.4h.8M263.0 417.2h.8M269.2 416.2h.8M275.6 409.9h.8M264.7 419.9h.8M269.1 411.4h.8M265.5 409.6h.8M273.5 407.8h.8M287.3 399.7h.8M273.5 411.5h.8M281.1 396.3h.8M273.4 404.8h.8M279.7 402.8h.8M280.0 409.4h.8M269.8 404.8h.8M273.0 404.1h.8M259.2 423.6h.8M263.6 409.9h.8M271.0 406.1h.8M275.7 401.3h.8M264.6 422.4h.8M254.7 422.3h.8M272.5 415.7h.8M273.9 409.1h.8M264.4 410.2h.8M262.7 428.6h.8M270.1 412.6h.8M277.2 404.7h.8M267.8 403.7h.8M266.4 423.9h.8M266.5 416.6h.8M263.0 418.1h.8M262.3 413.8h.8M270.8 406.3h.8M270.5 409.4h.8M261.4 422.8h.8M256.1 420.1h.8M266.2 421.2h.8M261.0 409.1h.8M258.8 414.7h.8M263.2 404.2h.8M270.2 414.2h.8M271.3 412.9h.8M263.8 414.4h.8M264.8 412.3h.8M270.6 405.1h.8M275.6 398.3h.8M260.7 414.5h.8M252.4 424.8h.8M279.8 405.9h.8M282.5 407.4h.8M276.7 405.7h.8M268.8 413.7h.8M264.6 413.4h.8M269.7 411.8h.8M271.2 411.9h.8M262.5 416.7h.8M278.0 408.6h.8M271.6 401.9h.8M266.6 406.6h.8M253.8 422.5h.8M264.9 415.6h.8M257.7 411.5h.8M265.7 412.5h.8M262.6 421.8h.8M272.6 408.8h.8M261.4 412.8h.8M261.0 421.5h.8M270.0 413.4h.8M272.9 406.4h.8M267.0 411.0h.8M267.9 410.6h.8M276.4 402.2h.8M271.9 412.3h.8M275.1 399.5h.8M272.0 407.0h.8M265.0 416.7h.8M275.0 412.1h.8M264.9 418.0h.8M279.6 397.6h.8M258.1 417.9h.8M272.9 403.6h.8M267.2 415.2h.8M278.9 393.9h.8M300.9 385.0h.8M262.3 422.9h.8M266.7 419.0h.8M270.1 403.2h.8M260.3 419.4h.8M274.0 404.9h.8M274.2 399.4h.8M265.0 416.3h.8M274.9 412.3h.8M265.7 410.3h.8M272.0 408.6h.8M282.6 392.4h.8M277.8 406.9h.8M278.1 404.1h.8M270.1 413.4h.8M261.1 418.4h.8M260.6 417.5h.8M261.7 413.5h.8M268.4 406.1h.8M262.0 417.2h.8M273.3 405.5h.8M271.0 413.4h.8M250.1 431.8h.8M246.7 457.5h.8M234.6 428.7h.8M222.4 461.3h.8M230.9 452.5h.8M232.4 476.8h.8M214.1 449.1h.8M239.2 445.7h.8M229.2 451.0h.8M246.2 437.5h.8M221.2 447.1h.8M219.5 454.1h.8M233.9 460.8h.8M219.0 454.8h.8M245.6 458.1h.8M238.5 442.1h.8M242.3 477.1h.8M223.8 456.4h.8M224.4 456.3h.8M230.1 461.2h.8M232.4 457.3h.8M236.1 454.4h.8M230.5 479.4h.8M220.0 459.9h.8M245.1 448.4h.8M257.6 472.5h.8M230.2 446.2h.8M247.0 461.7h.8M230.6 441.3h.8M245.7 455.9h.8M239.7 470.7h.8M219.5 444.9h.8M240.1 459.1h.8M210.6 469.6h.8M241.8 457.3h.8M240.1 443.5h.8M231.4 458.9h.8M239.0 444.1h.8M228.5 448.3h.8M230.8 453.4h.8M235.3 462.6h.8M216.8 478.7h.8M240.3 468.6h.8M231.5 446.9h.8M249.9 463.8h.8M273.5 471.3h.8M226.6 453.1h.8M229.8 440.3h.8M239.9 440.1h.8M291.2 479.2h.8M219.2 457.4h.8M218.2 441.4h.8M217.6 433.8h.8M238.1 448.4h.8M245.5 457.2h.8M210.4 437.5h.8M254.0 467.6h.8M231.2 448.7h.8M224.9 445.5h.8M232.7 462.6h.8M240.8 453.0h.8M221.6 452.0h.8M249.0 460.8h.8M231.3 435.8h.8M211.4 472.5h.8M228.4 465.7h.8M224.8 472.6h.8M231.3 456.4h.8M218.2 478.1h.8M245.6 457.2h.8M219.9 447.2h.8M243.6 460.3h.8M234.3 477.6h.8M231.9 460.5h.8M220.3 455.8h.8M216.6 447.1h.8M215.7 450.6h.8M229.8 471.3h.8M235.0 467.7h.8M229.1 436.9h.8M273.9 470.9h.8M250.2 453.3h.8M225.3 460.9h.8M226.8 451.1h.8M214.9 471.5h.8M224.4 446.8h.8M248.4 446.2h.8M221.0 453.0h.8M213.2 473.7h.8M247.9 467.8h.8M230.4 456.0h.8M241.5 453.6h.8M214.1 456.4h.8M235.2 454.0h.8M215.1 457.2h.8M255.1 458.2h.8M232.8 452.1h.8M234.7 456.7h.8M247.4 463.9h.8M253.7 446.9h.8M221.9 478.4h.8M233.0 443.1h.8M234.0 440.9h.8M224.6 452.3h.8M216.7 473.1h.8M222.5 458.2h.8M234.1 453.9h.8M231.1 449.8h.8M263.1 450.2h.8M233.6 468.0h.8M221.2 449.7h.8M227.2 459.3h.8M218.7 460.3h.8M214.4 443.9h.8M241.1 459.6h.8M215.4 473.3h.8M223.4 470.2h.8M229.0 455.2h.8M226.6 454.5h.8M239.3 463.9h.8M229.2 476.6h.8M222.6 450.5h.8M229.7 451.7h.8M237.3 445.6h.8M220.6 464.1h.8M227.4 451.6h.8M237.4 451.1h.8M227.2 456.9h.8M282.7 465.0h.8M233.5 460.6h.8M215.8 450.7h.8M235.6 460.3h.8M226.6 470.3h.8M247.5 457.5h.8M244.3 441.5h.8M235.5 449.3h.8M223.9 452.6h.8M219.3 445.5h.8M223.2 452.4h.8M231.1 459.0h.8M246.0 470.0h.8M250.1 465.4h.8M236.8 453.4h.8M245.8 451.8h.8M238.5 479.5h.8M224.7 461.4h.8M238.3 457.9h.8M242.7 456.0h.8M230.6 478.4h.8M251.2 445.3h.8M211.0 454.8h.8M219.7 468.1h.8M213.9 460.1h.8M230.2 445.5h.8M236.1 464.0h.8M244.0 465.2h.8M209.4 454.4h.8M236.2 442.2h.8M245.7 446.1h.8M224.4 439.4h.8M233.5 434.3h.8M217.4 446.6h.8M217.9 451.0h.8M239.5 451.8h.8M222.0 456.1h.8M224.2 469.5h.8M230.3 454.3h.8M234.7 468.2h.8M245.0 460.1h.8M225.6 455.7h.8M219.8 429.8h.8M243.6 462.3h.8M240.3 460.4h.8M217.7 454.4h.8M253.1 453.4h.8M212.3 462.1h.8M235.9 445.7h.8M235.0 454.8h.8M232.7 461.9h.8M241.2 434.2h.8M214.1 455.2h.8M244.3 444.6h.8M210.9 443.8h.8M235.1 452.8h.8M233.3 476.4h.8M217.0 443.8h.8M228.2 463.0h.8M246.9 444.9h.8M222.2 478.8h.8M218.2 443.1h.8M247.8 450.5h.8M229.8 459.3h.8M219.8 465.2h.8M222.0 451.0h.8M233.6 458.2h.8M222.8 437.9h.8M234.7 461.8h.8M241.1 453.6h.8M211.2 450.9h.8M252.9 457.8h.8" stroke="#000" stroke-width="0.8" fill="none" opacity="0.9"/>
<rect x="208.00" y="372.50" width="120.90" height="108.75" fill="none" stroke="#3a3a3a" stroke-width="0.84"/>
<line x1="240.80" y1="372.50" x2="240.80" y2="481.25" stroke="#444" stroke-width="0.84"/>
<line x1="208.00" y1="437.80" x2="328.90" y2="437.80" stroke="#444" stroke-width="0.84"/>
<text x="214.00" y="386.50" font-size="9.5" font-weight="normal" text-anchor="start" stroke="#000" stroke-width="0.22">1%</text>
<text x="321.40" y="387.00" font-size="9.5" font-weight="normal" text-anchor="end" stroke="#000" stroke-width="0.22">73%</text>
<text x="214.50" y="473.25" font-size="9.5" font-weight="normal" text-anchor="start" stroke="#000" stroke-width="0.22">16%</text>
<text x="320.40" y="473.75" font-size="9.5" font-weight="normal" text-anchor="end" stroke="#000" stroke-width="0.22">10%</text>
<text x="306.30" y="364.20" font-size="9.7" font-weight="bold" text-anchor="middle" stroke="#000" stroke-width="0.34">EP2-/-</text>
<text x="208.50" y="486.25" font-size="4.0" font-weight="normal" text-anchor="middle" fill="#111">10<tspan font-size="2" dy="-1.2">0</tspan></text>
<line x1="206.50" y1="481.25" x2="208.00" y2="481.25" stroke="#444" stroke-width="0.6"/>
<line x1="208.00" y1="481.25" x2="208.00" y2="482.75" stroke="#444" stroke-width="0.6"/>
<text x="205.20" y="482.25" font-size="4.0" font-weight="normal" text-anchor="start" transform="rotate(-90 205.20 482.25)" fill="#111">10<tspan font-size="2" dy="-1.2">0</tspan></text>
<text x="238.72" y="486.25" font-size="4.0" font-weight="normal" text-anchor="middle" fill="#111">10<tspan font-size="2" dy="-1.2">1</tspan></text>
<line x1="206.50" y1="454.06" x2="208.00" y2="454.06" stroke="#444" stroke-width="0.6"/>
<line x1="238.22" y1="481.25" x2="238.22" y2="482.75" stroke="#444" stroke-width="0.6"/>
<text x="205.20" y="455.06" font-size="4.0" font-weight="normal" text-anchor="start" transform="rotate(-90 205.20 455.06)" fill="#111">10<tspan font-size="2" dy="-1.2">1</tspan></text>
<text x="268.95" y="486.25" font-size="4.0" font-weight="normal" text-anchor="middle" fill="#111">10<tspan font-size="2" dy="-1.2">2</tspan></text>
<line x1="206.50" y1="426.88" x2="208.00" y2="426.88" stroke="#444" stroke-width="0.6"/>
<line x1="268.45" y1="481.25" x2="268.45" y2="482.75" stroke="#444" stroke-width="0.6"/>
<text x="205.20" y="427.88" font-size="4.0" font-weight="normal" text-anchor="start" transform="rotate(-90 205.20 427.88)" fill="#111">10<tspan font-size="2" dy="-1.2">2</tspan></text>
<text x="299.17" y="486.25" font-size="4.0" font-weight="normal" text-anchor="middle" fill="#111">10<tspan font-size="2" dy="-1.2">3</tspan></text>
<line x1="206.50" y1="399.69" x2="208.00" y2="399.69" stroke="#444" stroke-width="0.6"/>
<line x1="298.67" y1="481.25" x2="298.67" y2="482.75" stroke="#444" stroke-width="0.6"/>
<text x="205.20" y="400.69" font-size="4.0" font-weight="normal" text-anchor="start" transform="rotate(-90 205.20 400.69)" fill="#111">10<tspan font-size="2" dy="-1.2">3</tspan></text>
<text x="329.40" y="486.25" font-size="4.0" font-weight="normal" text-anchor="middle" fill="#111">10<tspan font-size="2" dy="-1.2">4</tspan></text>
<line x1="206.50" y1="372.50" x2="208.00" y2="372.50" stroke="#444" stroke-width="0.6"/>
<line x1="328.90" y1="481.25" x2="328.90" y2="482.75" stroke="#444" stroke-width="0.6"/>
<text x="205.20" y="373.50" font-size="4.0" font-weight="normal" text-anchor="start" transform="rotate(-90 205.20 373.50)" fill="#111">10<tspan font-size="2" dy="-1.2">4</tspan></text>
<text x="266.45" y="490.15" font-size="3.4" font-weight="normal" text-anchor="middle" fill="#222">FITC</text>
<text x="199.40" y="427.88" font-size="4" font-weight="normal" text-anchor="middle" transform="rotate(-90 199.40 427.88)" fill="#222">FL4-H</text>
<line x1="375.00" y1="376.50" x2="375.00" y2="464.25" stroke="#000" stroke-width="1.38"/>
<line x1="374.50" y1="463.75" x2="500.50" y2="463.75" stroke="#000" stroke-width="1.38"/>
<line x1="372.50" y1="377.00" x2="375.00" y2="377.00" stroke="#000" stroke-width="1.12"/>
<text x="373.10" y="379.30" font-size="6.3" font-weight="bold" text-anchor="end" stroke="#000" stroke-width="0.22">100</text>
<line x1="372.50" y1="394.35" x2="375.00" y2="394.35" stroke="#000" stroke-width="1.12"/>
<text x="373.10" y="396.65" font-size="6.3" font-weight="bold" text-anchor="end" stroke="#000" stroke-width="0.22">80</text>
<line x1="372.50" y1="411.70" x2="375.00" y2="411.70" stroke="#000" stroke-width="1.12"/>
<text x="373.10" y="414.00" font-size="6.3" font-weight="bold" text-anchor="end" stroke="#000" stroke-width="0.22">60</text>
<line x1="372.50" y1="429.05" x2="375.00" y2="429.05" stroke="#000" stroke-width="1.12"/>
<text x="373.10" y="431.35" font-size="6.3" font-weight="bold" text-anchor="end" stroke="#000" stroke-width="0.22">40</text>
<line x1="372.50" y1="446.40" x2="375.00" y2="446.40" stroke="#000" stroke-width="1.12"/>
<text x="373.10" y="448.70" font-size="6.3" font-weight="bold" text-anchor="end" stroke="#000" stroke-width="0.22">20</text>
<line x1="372.50" y1="463.75" x2="375.00" y2="463.75" stroke="#000" stroke-width="1.12"/>
<text x="373.10" y="466.05" font-size="6.3" font-weight="bold" text-anchor="end" stroke="#000" stroke-width="0.22">0</text>
<line x1="406.75" y1="409.50" x2="406.75" y2="404.50" stroke="#000" stroke-width="1.38"/>
<line x1="396.00" y1="404.50" x2="417.50" y2="404.50" stroke="#000" stroke-width="1.38"/>
<rect x="386.00" y="410.00" width="41.50" height="53.75" fill="#fff" stroke="#000" stroke-width="1.38"/>
<line x1="469.25" y1="393.75" x2="469.25" y2="388.00" stroke="#000" stroke-width="1.38"/>
<line x1="458.50" y1="388.00" x2="480.00" y2="388.00" stroke="#000" stroke-width="1.38"/>
<rect x="448.00" y="393.75" width="42.50" height="70.00" fill="#000" stroke="#000" stroke-width="0"/>
<line x1="406.75" y1="463.75" x2="406.75" y2="466.25" stroke="#000" stroke-width="1.25"/>
<line x1="469.25" y1="463.75" x2="469.25" y2="466.25" stroke="#000" stroke-width="1.25"/>
<line x1="405.50" y1="382.30" x2="466.20" y2="382.30" stroke="#000" stroke-width="1.38"/>
<text x="432.52" y="380.46" font-size="10.8" font-family="'Liberation Sans','DejaVu Sans',sans-serif" stroke="#000" stroke-width="0.27">∗</text>
<text x="406.00" y="480.30" font-size="9.7" font-weight="bold" text-anchor="middle" stroke="#000" stroke-width="0.34">wt</text>
<text x="470.00" y="480.30" font-size="9.7" font-weight="bold" text-anchor="middle" stroke="#000" stroke-width="0.34">EP2-/-</text>
<text x="358.80" y="423.50" font-size="10.5" font-weight="bold" text-anchor="middle" transform="rotate(-90 358.80 423.50)" stroke="#000" stroke-width="0.37">%F4/80/CD11b</text>
<text x="154.50" y="556.80" font-size="15.5" font-weight="normal" text-anchor="middle" textLength="7.6" lengthAdjust="spacingAndGlyphs" stroke="#000" stroke-width="0.3">E</text>
<text x="257.80" y="550.60" font-size="9.8" font-weight="bold" text-anchor="middle" stroke="#000" stroke-width="0.34">CD115</text>
<line x1="190.75" y1="562.00" x2="190.75" y2="659.00" stroke="#000" stroke-width="1.38"/>
<line x1="190.25" y1="562.50" x2="342.50" y2="562.50" stroke="#000" stroke-width="1.38"/>
<line x1="190.25" y1="658.50" x2="342.50" y2="658.50" stroke="#000" stroke-width="1.38"/>
<line x1="188.25" y1="562.50" x2="190.75" y2="562.50" stroke="#000" stroke-width="1.12"/>
<text x="187.25" y="565.00" font-size="6.8" font-weight="bold" text-anchor="end" stroke="#000" stroke-width="0.24">0</text>
<line x1="188.25" y1="586.50" x2="190.75" y2="586.50" stroke="#000" stroke-width="1.12"/>
<text x="187.25" y="589.00" font-size="6.8" font-weight="bold" text-anchor="end" stroke="#000" stroke-width="0.24">-2</text>
<line x1="188.25" y1="610.50" x2="190.75" y2="610.50" stroke="#000" stroke-width="1.12"/>
<text x="187.25" y="613.00" font-size="6.8" font-weight="bold" text-anchor="end" stroke="#000" stroke-width="0.24">-4</text>
<line x1="188.25" y1="634.50" x2="190.75" y2="634.50" stroke="#000" stroke-width="1.12"/>
<text x="187.25" y="637.00" font-size="6.8" font-weight="bold" text-anchor="end" stroke="#000" stroke-width="0.24">-6</text>
<line x1="188.25" y1="658.50" x2="190.75" y2="658.50" stroke="#000" stroke-width="1.12"/>
<text x="187.25" y="661.00" font-size="6.8" font-weight="bold" text-anchor="end" stroke="#000" stroke-width="0.24">-8</text>
<rect x="204.50" y="562.50" width="49.00" height="65.00" fill="#fff" stroke="#000" stroke-width="1.38"/>
<line x1="304.50" y1="605.50" x2="304.50" y2="609.25" stroke="#000" stroke-width="1.38"/>
<line x1="291.50" y1="609.25" x2="317.50" y2="609.25" stroke="#000" stroke-width="1.38"/>
<rect x="278.75" y="562.50" width="51.25" height="43.00" fill="#000" stroke="#000" stroke-width="0"/>
<line x1="228.75" y1="658.50" x2="228.75" y2="661.00" stroke="#000" stroke-width="1.25"/>
<line x1="304.50" y1="658.50" x2="304.50" y2="661.00" stroke="#000" stroke-width="1.25"/>
<line x1="228.75" y1="635.50" x2="305.50" y2="635.50" stroke="#000" stroke-width="1.38"/>
<text x="267.52" y="646.96" font-size="10.8" font-family="'Liberation Sans','DejaVu Sans',sans-serif" stroke="#000" stroke-width="0.27">∗</text>
<text x="231.00" y="675.00" font-size="9.7" font-weight="bold" text-anchor="middle" stroke="#000" stroke-width="0.34">wt</text>
<text x="310.00" y="675.50" font-size="9.7" font-weight="bold" text-anchor="middle" stroke="#000" stroke-width="0.34">EP2-/-</text>
<text x="175.80" y="610.20" font-size="8" font-weight="bold" text-anchor="middle" transform="rotate(-90 175.80 610.20)" stroke="#000" stroke-width="0.28">ΔCt (relative to β-actin)</text>
</svg>
</body>
</html>
